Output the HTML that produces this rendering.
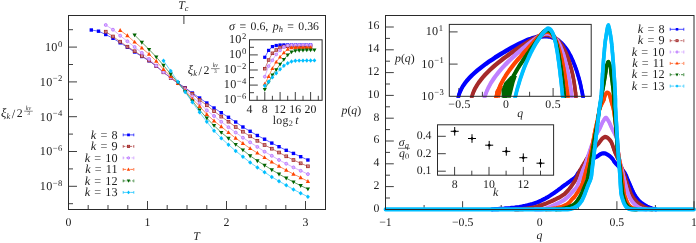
<!DOCTYPE html>
<html>
<head>
<meta charset="utf-8">
<title>figure</title>
<style>
html,body{margin:0;padding:0;background:#fff;}
body{width:696px;height:243px;overflow:hidden;font-family:"Liberation Serif",serif;}
svg{display:block;will-change:transform;text-rendering:geometricPrecision;}
</style>
</head>
<body>
<svg width="696" height="243" viewBox="0 0 696 243" font-family="'Liberation Serif', serif">
<rect width="696" height="243" fill="#fff"/>
<g id="left-main">
<polyline points="91.3,30 98.5,31.2 105.7,34.5 113,38.3 120.2,42.8 127.4,47.3 134.6,52 141.8,56.5 149.1,60.8 156.3,66.2 163.5,72.3 170.7,77.8 177.9,83 185.2,87.8 192.4,93 199.6,98 206.8,103 214,108 221.3,112.7 228.5,117.3 235.7,122 242.9,127 250.1,131.3 257.4,135.5 264.6,139.2 271.8,143.1 279,146.7 286.2,150.3 293.5,153.4 300.7,156.7 307.9,160" fill="none" stroke="#0000ff" stroke-width="0.6" stroke-linejoin="round" stroke-linecap="round" />
<rect x="89.6" y="28.3" width="3.4" height="3.4" fill="#0000ff"/>
<rect x="96.82" y="29.5" width="3.4" height="3.4" fill="#0000ff"/>
<rect x="104.04" y="32.8" width="3.4" height="3.4" fill="#0000ff"/>
<rect x="111.26" y="36.6" width="3.4" height="3.4" fill="#0000ff"/>
<rect x="118.48" y="41.1" width="3.4" height="3.4" fill="#0000ff"/>
<rect x="125.7" y="45.6" width="3.4" height="3.4" fill="#0000ff"/>
<rect x="132.92" y="50.3" width="3.4" height="3.4" fill="#0000ff"/>
<rect x="140.14" y="54.8" width="3.4" height="3.4" fill="#0000ff"/>
<rect x="147.36" y="59.1" width="3.4" height="3.4" fill="#0000ff"/>
<rect x="154.58" y="64.5" width="3.4" height="3.4" fill="#0000ff"/>
<rect x="161.8" y="70.6" width="3.4" height="3.4" fill="#0000ff"/>
<rect x="169.02" y="76.1" width="3.4" height="3.4" fill="#0000ff"/>
<rect x="176.24" y="81.3" width="3.4" height="3.4" fill="#0000ff"/>
<rect x="183.46" y="86.1" width="3.4" height="3.4" fill="#0000ff"/>
<rect x="190.68" y="91.3" width="3.4" height="3.4" fill="#0000ff"/>
<rect x="197.9" y="96.3" width="3.4" height="3.4" fill="#0000ff"/>
<rect x="205.12" y="101.3" width="3.4" height="3.4" fill="#0000ff"/>
<rect x="212.34" y="106.3" width="3.4" height="3.4" fill="#0000ff"/>
<rect x="219.56" y="111" width="3.4" height="3.4" fill="#0000ff"/>
<rect x="226.78" y="115.6" width="3.4" height="3.4" fill="#0000ff"/>
<rect x="234" y="120.3" width="3.4" height="3.4" fill="#0000ff"/>
<rect x="241.22" y="125.3" width="3.4" height="3.4" fill="#0000ff"/>
<rect x="248.44" y="129.6" width="3.4" height="3.4" fill="#0000ff"/>
<rect x="255.66" y="133.8" width="3.4" height="3.4" fill="#0000ff"/>
<rect x="262.88" y="137.5" width="3.4" height="3.4" fill="#0000ff"/>
<rect x="270.1" y="141.4" width="3.4" height="3.4" fill="#0000ff"/>
<rect x="277.32" y="145" width="3.4" height="3.4" fill="#0000ff"/>
<rect x="284.54" y="148.6" width="3.4" height="3.4" fill="#0000ff"/>
<rect x="291.76" y="151.7" width="3.4" height="3.4" fill="#0000ff"/>
<rect x="298.98" y="155" width="3.4" height="3.4" fill="#0000ff"/>
<rect x="306.2" y="158.3" width="3.4" height="3.4" fill="#0000ff"/>
<polyline points="105.7,31.7 113,36.5 120.2,41.7 127.4,46.7 134.6,51.2 141.8,56 149.1,60.5 156.3,66 163.5,72.3 170.7,78 177.9,83.2 185.2,88.2 192.4,93.8 199.6,100 206.8,105.3 214,111.2 221.3,116.6 228.5,121.7 235.7,127 242.9,131.7 250.1,136.3 257.4,140.8 264.6,145 271.8,148.7 279,152.5 286.2,156.3 293.5,160 300.7,163.3 307.9,166.3" fill="none" stroke="#a52a2a" stroke-width="0.6" stroke-linejoin="round" stroke-linecap="round" />
<rect x="104.39" y="30.35" width="2.7" height="2.7" fill="#e6c6c6" stroke="#a52a2a" stroke-width="0.9"/>
<rect x="105.29" y="31.25" width="0.9" height="0.9" fill="#a52a2a"/>
<rect x="111.61" y="35.15" width="2.7" height="2.7" fill="#e6c6c6" stroke="#a52a2a" stroke-width="0.9"/>
<rect x="112.51" y="36.05" width="0.9" height="0.9" fill="#a52a2a"/>
<rect x="118.83" y="40.35" width="2.7" height="2.7" fill="#e6c6c6" stroke="#a52a2a" stroke-width="0.9"/>
<rect x="119.73" y="41.25" width="0.9" height="0.9" fill="#a52a2a"/>
<rect x="126.05" y="45.35" width="2.7" height="2.7" fill="#e6c6c6" stroke="#a52a2a" stroke-width="0.9"/>
<rect x="126.95" y="46.25" width="0.9" height="0.9" fill="#a52a2a"/>
<rect x="133.27" y="49.85" width="2.7" height="2.7" fill="#e6c6c6" stroke="#a52a2a" stroke-width="0.9"/>
<rect x="134.17" y="50.75" width="0.9" height="0.9" fill="#a52a2a"/>
<rect x="140.49" y="54.65" width="2.7" height="2.7" fill="#e6c6c6" stroke="#a52a2a" stroke-width="0.9"/>
<rect x="141.39" y="55.55" width="0.9" height="0.9" fill="#a52a2a"/>
<rect x="147.71" y="59.15" width="2.7" height="2.7" fill="#e6c6c6" stroke="#a52a2a" stroke-width="0.9"/>
<rect x="148.61" y="60.05" width="0.9" height="0.9" fill="#a52a2a"/>
<rect x="154.93" y="64.65" width="2.7" height="2.7" fill="#e6c6c6" stroke="#a52a2a" stroke-width="0.9"/>
<rect x="155.83" y="65.55" width="0.9" height="0.9" fill="#a52a2a"/>
<rect x="162.15" y="70.95" width="2.7" height="2.7" fill="#e6c6c6" stroke="#a52a2a" stroke-width="0.9"/>
<rect x="163.05" y="71.85" width="0.9" height="0.9" fill="#a52a2a"/>
<rect x="169.37" y="76.65" width="2.7" height="2.7" fill="#e6c6c6" stroke="#a52a2a" stroke-width="0.9"/>
<rect x="170.27" y="77.55" width="0.9" height="0.9" fill="#a52a2a"/>
<rect x="176.59" y="81.85" width="2.7" height="2.7" fill="#e6c6c6" stroke="#a52a2a" stroke-width="0.9"/>
<rect x="177.49" y="82.75" width="0.9" height="0.9" fill="#a52a2a"/>
<rect x="183.81" y="86.85" width="2.7" height="2.7" fill="#e6c6c6" stroke="#a52a2a" stroke-width="0.9"/>
<rect x="184.71" y="87.75" width="0.9" height="0.9" fill="#a52a2a"/>
<rect x="191.03" y="92.45" width="2.7" height="2.7" fill="#e6c6c6" stroke="#a52a2a" stroke-width="0.9"/>
<rect x="191.93" y="93.35" width="0.9" height="0.9" fill="#a52a2a"/>
<rect x="198.25" y="98.65" width="2.7" height="2.7" fill="#e6c6c6" stroke="#a52a2a" stroke-width="0.9"/>
<rect x="199.15" y="99.55" width="0.9" height="0.9" fill="#a52a2a"/>
<rect x="205.47" y="103.95" width="2.7" height="2.7" fill="#e6c6c6" stroke="#a52a2a" stroke-width="0.9"/>
<rect x="206.37" y="104.85" width="0.9" height="0.9" fill="#a52a2a"/>
<rect x="212.69" y="109.85" width="2.7" height="2.7" fill="#e6c6c6" stroke="#a52a2a" stroke-width="0.9"/>
<rect x="213.59" y="110.75" width="0.9" height="0.9" fill="#a52a2a"/>
<rect x="219.91" y="115.25" width="2.7" height="2.7" fill="#e6c6c6" stroke="#a52a2a" stroke-width="0.9"/>
<rect x="220.81" y="116.15" width="0.9" height="0.9" fill="#a52a2a"/>
<rect x="227.13" y="120.35" width="2.7" height="2.7" fill="#e6c6c6" stroke="#a52a2a" stroke-width="0.9"/>
<rect x="228.03" y="121.25" width="0.9" height="0.9" fill="#a52a2a"/>
<rect x="234.35" y="125.65" width="2.7" height="2.7" fill="#e6c6c6" stroke="#a52a2a" stroke-width="0.9"/>
<rect x="235.25" y="126.55" width="0.9" height="0.9" fill="#a52a2a"/>
<rect x="241.57" y="130.35" width="2.7" height="2.7" fill="#e6c6c6" stroke="#a52a2a" stroke-width="0.9"/>
<rect x="242.47" y="131.25" width="0.9" height="0.9" fill="#a52a2a"/>
<rect x="248.79" y="134.95" width="2.7" height="2.7" fill="#e6c6c6" stroke="#a52a2a" stroke-width="0.9"/>
<rect x="249.69" y="135.85" width="0.9" height="0.9" fill="#a52a2a"/>
<rect x="256.01" y="139.45" width="2.7" height="2.7" fill="#e6c6c6" stroke="#a52a2a" stroke-width="0.9"/>
<rect x="256.91" y="140.35" width="0.9" height="0.9" fill="#a52a2a"/>
<rect x="263.23" y="143.65" width="2.7" height="2.7" fill="#e6c6c6" stroke="#a52a2a" stroke-width="0.9"/>
<rect x="264.13" y="144.55" width="0.9" height="0.9" fill="#a52a2a"/>
<rect x="270.45" y="147.35" width="2.7" height="2.7" fill="#e6c6c6" stroke="#a52a2a" stroke-width="0.9"/>
<rect x="271.35" y="148.25" width="0.9" height="0.9" fill="#a52a2a"/>
<rect x="277.67" y="151.15" width="2.7" height="2.7" fill="#e6c6c6" stroke="#a52a2a" stroke-width="0.9"/>
<rect x="278.57" y="152.05" width="0.9" height="0.9" fill="#a52a2a"/>
<rect x="284.89" y="154.95" width="2.7" height="2.7" fill="#e6c6c6" stroke="#a52a2a" stroke-width="0.9"/>
<rect x="285.79" y="155.85" width="0.9" height="0.9" fill="#a52a2a"/>
<rect x="292.11" y="158.65" width="2.7" height="2.7" fill="#e6c6c6" stroke="#a52a2a" stroke-width="0.9"/>
<rect x="293.01" y="159.55" width="0.9" height="0.9" fill="#a52a2a"/>
<rect x="299.33" y="161.95" width="2.7" height="2.7" fill="#e6c6c6" stroke="#a52a2a" stroke-width="0.9"/>
<rect x="300.23" y="162.85" width="0.9" height="0.9" fill="#a52a2a"/>
<rect x="306.55" y="164.95" width="2.7" height="2.7" fill="#e6c6c6" stroke="#a52a2a" stroke-width="0.9"/>
<rect x="307.45" y="165.85" width="0.9" height="0.9" fill="#a52a2a"/>
<polyline points="105.7,25 113,29.7 120.2,35.7 127.4,41.3 134.6,47 141.8,52.9 149.1,59 156.3,65.6 163.5,72.1 170.7,77.6 177.9,83.3 185.2,89.5 192.4,96.5 199.6,103.3 206.8,110.3 214,116 221.3,121.8 228.5,127.2 235.7,132.5 242.9,137.7 250.1,142.3 257.4,146.9 264.6,151.7 271.8,155.8 279,160 286.2,163.7 293.5,167.4 300.7,170.8 307.9,174.1" fill="none" stroke="#c080ff" stroke-width="0.6" stroke-linejoin="round" stroke-linecap="round" />
<circle cx="105.74" cy="25" r="1.45" fill="#dcb8ff" stroke="#c080ff" stroke-width="1"/>
<circle cx="112.96" cy="29.7" r="1.45" fill="#dcb8ff" stroke="#c080ff" stroke-width="1"/>
<circle cx="120.18" cy="35.7" r="1.45" fill="#dcb8ff" stroke="#c080ff" stroke-width="1"/>
<circle cx="127.4" cy="41.3" r="1.45" fill="#dcb8ff" stroke="#c080ff" stroke-width="1"/>
<circle cx="134.62" cy="47" r="1.45" fill="#dcb8ff" stroke="#c080ff" stroke-width="1"/>
<circle cx="141.84" cy="52.9" r="1.45" fill="#dcb8ff" stroke="#c080ff" stroke-width="1"/>
<circle cx="149.06" cy="59" r="1.45" fill="#dcb8ff" stroke="#c080ff" stroke-width="1"/>
<circle cx="156.28" cy="65.6" r="1.45" fill="#dcb8ff" stroke="#c080ff" stroke-width="1"/>
<circle cx="163.5" cy="72.1" r="1.45" fill="#dcb8ff" stroke="#c080ff" stroke-width="1"/>
<circle cx="170.72" cy="77.6" r="1.45" fill="#dcb8ff" stroke="#c080ff" stroke-width="1"/>
<circle cx="177.94" cy="83.3" r="1.45" fill="#dcb8ff" stroke="#c080ff" stroke-width="1"/>
<circle cx="185.16" cy="89.5" r="1.45" fill="#dcb8ff" stroke="#c080ff" stroke-width="1"/>
<circle cx="192.38" cy="96.5" r="1.45" fill="#dcb8ff" stroke="#c080ff" stroke-width="1"/>
<circle cx="199.6" cy="103.3" r="1.45" fill="#dcb8ff" stroke="#c080ff" stroke-width="1"/>
<circle cx="206.82" cy="110.3" r="1.45" fill="#dcb8ff" stroke="#c080ff" stroke-width="1"/>
<circle cx="214.04" cy="116" r="1.45" fill="#dcb8ff" stroke="#c080ff" stroke-width="1"/>
<circle cx="221.26" cy="121.8" r="1.45" fill="#dcb8ff" stroke="#c080ff" stroke-width="1"/>
<circle cx="228.48" cy="127.2" r="1.45" fill="#dcb8ff" stroke="#c080ff" stroke-width="1"/>
<circle cx="235.7" cy="132.5" r="1.45" fill="#dcb8ff" stroke="#c080ff" stroke-width="1"/>
<circle cx="242.92" cy="137.7" r="1.45" fill="#dcb8ff" stroke="#c080ff" stroke-width="1"/>
<circle cx="250.14" cy="142.3" r="1.45" fill="#dcb8ff" stroke="#c080ff" stroke-width="1"/>
<circle cx="257.36" cy="146.9" r="1.45" fill="#dcb8ff" stroke="#c080ff" stroke-width="1"/>
<circle cx="264.58" cy="151.7" r="1.45" fill="#dcb8ff" stroke="#c080ff" stroke-width="1"/>
<circle cx="271.8" cy="155.8" r="1.45" fill="#dcb8ff" stroke="#c080ff" stroke-width="1"/>
<circle cx="279.02" cy="160" r="1.45" fill="#dcb8ff" stroke="#c080ff" stroke-width="1"/>
<circle cx="286.24" cy="163.7" r="1.45" fill="#dcb8ff" stroke="#c080ff" stroke-width="1"/>
<circle cx="293.46" cy="167.4" r="1.45" fill="#dcb8ff" stroke="#c080ff" stroke-width="1"/>
<circle cx="300.68" cy="170.8" r="1.45" fill="#dcb8ff" stroke="#c080ff" stroke-width="1"/>
<circle cx="307.9" cy="174.1" r="1.45" fill="#dcb8ff" stroke="#c080ff" stroke-width="1"/>
<polyline points="120.2,30.3 127.4,35.7 134.6,42 141.8,48 149.1,54.2 156.3,61.2 163.5,69.3 170.7,76.3 177.9,83.5 185.2,90.5 192.4,99 199.6,106.3 206.8,114.4 214,120.8 221.3,126.7 228.5,132.5 235.7,138.2 242.9,143.3 250.1,148.5 257.4,153 264.6,157.5 271.8,162 279,166.2 286.2,170.2 293.5,174.1 300.7,177.6 307.9,181.3" fill="none" stroke="#ff4500" stroke-width="0.6" stroke-linejoin="round" stroke-linecap="round" />
<path d="M120.18,27.94 L122.33,31.91 L118.03,31.91 Z" fill="#ff4500"/>
<path d="M127.4,33.34 L129.55,37.31 L125.25,37.31 Z" fill="#ff4500"/>
<path d="M134.62,39.63 L136.77,43.61 L132.47,43.61 Z" fill="#ff4500"/>
<path d="M141.84,45.63 L143.99,49.61 L139.69,49.61 Z" fill="#ff4500"/>
<path d="M149.06,51.84 L151.21,55.81 L146.91,55.81 Z" fill="#ff4500"/>
<path d="M156.28,58.84 L158.43,62.81 L154.13,62.81 Z" fill="#ff4500"/>
<path d="M163.5,66.94 L165.65,70.91 L161.35,70.91 Z" fill="#ff4500"/>
<path d="M170.72,73.94 L172.87,77.91 L168.57,77.91 Z" fill="#ff4500"/>
<path d="M177.94,81.14 L180.09,85.11 L175.79,85.11 Z" fill="#ff4500"/>
<path d="M185.16,88.14 L187.31,92.11 L183.01,92.11 Z" fill="#ff4500"/>
<path d="M192.38,96.64 L194.53,100.61 L190.23,100.61 Z" fill="#ff4500"/>
<path d="M199.6,103.94 L201.75,107.91 L197.45,107.91 Z" fill="#ff4500"/>
<path d="M206.82,112.04 L208.97,116.01 L204.67,116.01 Z" fill="#ff4500"/>
<path d="M214.04,118.44 L216.19,122.41 L211.89,122.41 Z" fill="#ff4500"/>
<path d="M221.26,124.34 L223.41,128.31 L219.11,128.31 Z" fill="#ff4500"/>
<path d="M228.48,130.13 L230.63,134.11 L226.33,134.11 Z" fill="#ff4500"/>
<path d="M235.7,135.83 L237.85,139.81 L233.55,139.81 Z" fill="#ff4500"/>
<path d="M242.92,140.94 L245.07,144.91 L240.77,144.91 Z" fill="#ff4500"/>
<path d="M250.14,146.13 L252.29,150.11 L247.99,150.11 Z" fill="#ff4500"/>
<path d="M257.36,150.63 L259.51,154.61 L255.21,154.61 Z" fill="#ff4500"/>
<path d="M264.58,155.13 L266.73,159.11 L262.43,159.11 Z" fill="#ff4500"/>
<path d="M271.8,159.63 L273.95,163.61 L269.65,163.61 Z" fill="#ff4500"/>
<path d="M279.02,163.83 L281.17,167.81 L276.87,167.81 Z" fill="#ff4500"/>
<path d="M286.24,167.83 L288.39,171.81 L284.09,171.81 Z" fill="#ff4500"/>
<path d="M293.46,171.73 L295.61,175.71 L291.31,175.71 Z" fill="#ff4500"/>
<path d="M300.68,175.23 L302.83,179.21 L298.53,179.21 Z" fill="#ff4500"/>
<path d="M307.9,178.94 L310.05,182.91 L305.75,182.91 Z" fill="#ff4500"/>
<polyline points="134.6,35 141.8,42.3 149.1,49.5 156.3,57 163.5,65.4 170.7,74.1 177.9,82.5 185.2,91.5 192.4,101 199.6,110 206.8,118.2 214,125.5 221.3,132.5 228.5,138.3 235.7,144.5 242.9,150 250.1,155.8 257.4,160.8 264.6,165.3 271.8,169.8 279,174.1 286.2,178.2 293.5,182 300.7,185.7 307.9,189" fill="none" stroke="#006400" stroke-width="0.6" stroke-linejoin="round" stroke-linecap="round" />
<path d="M134.62,37.37 L136.77,33.39 L132.47,33.39 Z" fill="#006400"/>
<path d="M141.84,44.66 L143.99,40.69 L139.69,40.69 Z" fill="#006400"/>
<path d="M149.06,51.87 L151.21,47.89 L146.91,47.89 Z" fill="#006400"/>
<path d="M156.28,59.37 L158.43,55.39 L154.13,55.39 Z" fill="#006400"/>
<path d="M163.5,67.77 L165.65,63.79 L161.35,63.79 Z" fill="#006400"/>
<path d="M170.72,76.46 L172.87,72.49 L168.57,72.49 Z" fill="#006400"/>
<path d="M177.94,84.86 L180.09,80.89 L175.79,80.89 Z" fill="#006400"/>
<path d="M185.16,93.86 L187.31,89.89 L183.01,89.89 Z" fill="#006400"/>
<path d="M192.38,103.36 L194.53,99.39 L190.23,99.39 Z" fill="#006400"/>
<path d="M199.6,112.36 L201.75,108.39 L197.45,108.39 Z" fill="#006400"/>
<path d="M206.82,120.56 L208.97,116.59 L204.67,116.59 Z" fill="#006400"/>
<path d="M214.04,127.86 L216.19,123.89 L211.89,123.89 Z" fill="#006400"/>
<path d="M221.26,134.87 L223.41,130.89 L219.11,130.89 Z" fill="#006400"/>
<path d="M228.48,140.67 L230.63,136.69 L226.33,136.69 Z" fill="#006400"/>
<path d="M235.7,146.87 L237.85,142.89 L233.55,142.89 Z" fill="#006400"/>
<path d="M242.92,152.37 L245.07,148.39 L240.77,148.39 Z" fill="#006400"/>
<path d="M250.14,158.17 L252.29,154.19 L247.99,154.19 Z" fill="#006400"/>
<path d="M257.36,163.17 L259.51,159.19 L255.21,159.19 Z" fill="#006400"/>
<path d="M264.58,167.67 L266.73,163.69 L262.43,163.69 Z" fill="#006400"/>
<path d="M271.8,172.17 L273.95,168.19 L269.65,168.19 Z" fill="#006400"/>
<path d="M279.02,176.47 L281.17,172.49 L276.87,172.49 Z" fill="#006400"/>
<path d="M286.24,180.56 L288.39,176.59 L284.09,176.59 Z" fill="#006400"/>
<path d="M293.46,184.37 L295.61,180.39 L291.31,180.39 Z" fill="#006400"/>
<path d="M300.68,188.06 L302.83,184.09 L298.53,184.09 Z" fill="#006400"/>
<path d="M307.9,191.37 L310.05,187.39 L305.75,187.39 Z" fill="#006400"/>
<polyline points="163.5,60.7 170.7,71 177.9,81.8 185.2,92 192.4,102.3 199.6,112.3 206.8,121.7 214,130.8 221.3,138.2 228.5,144.7 235.7,151 242.9,156.7 250.1,162.5 257.4,167.5 264.6,172.2 271.8,177 279,181.2 286.2,185.3 293.5,189.5 300.7,193.2 307.9,196.7" fill="none" stroke="#00bfff" stroke-width="0.6" stroke-linejoin="round" stroke-linecap="round" />
<path d="M163.5,58.4 L165.5,60.7 L163.5,63 L161.5,60.7 Z" fill="#00bfff"/>
<path d="M170.72,68.7 L172.72,71 L170.72,73.3 L168.72,71 Z" fill="#00bfff"/>
<path d="M177.94,79.5 L179.94,81.8 L177.94,84.1 L175.94,81.8 Z" fill="#00bfff"/>
<path d="M185.16,89.7 L187.16,92 L185.16,94.3 L183.16,92 Z" fill="#00bfff"/>
<path d="M192.38,100 L194.38,102.3 L192.38,104.6 L190.38,102.3 Z" fill="#00bfff"/>
<path d="M199.6,110 L201.6,112.3 L199.6,114.6 L197.6,112.3 Z" fill="#00bfff"/>
<path d="M206.82,119.4 L208.82,121.7 L206.82,124 L204.82,121.7 Z" fill="#00bfff"/>
<path d="M214.04,128.5 L216.04,130.8 L214.04,133.1 L212.04,130.8 Z" fill="#00bfff"/>
<path d="M221.26,135.9 L223.26,138.2 L221.26,140.5 L219.26,138.2 Z" fill="#00bfff"/>
<path d="M228.48,142.4 L230.48,144.7 L228.48,147 L226.48,144.7 Z" fill="#00bfff"/>
<path d="M235.7,148.7 L237.7,151 L235.7,153.3 L233.7,151 Z" fill="#00bfff"/>
<path d="M242.92,154.4 L244.92,156.7 L242.92,159 L240.92,156.7 Z" fill="#00bfff"/>
<path d="M250.14,160.2 L252.14,162.5 L250.14,164.8 L248.14,162.5 Z" fill="#00bfff"/>
<path d="M257.36,165.2 L259.36,167.5 L257.36,169.8 L255.36,167.5 Z" fill="#00bfff"/>
<path d="M264.58,169.9 L266.58,172.2 L264.58,174.5 L262.58,172.2 Z" fill="#00bfff"/>
<path d="M271.8,174.7 L273.8,177 L271.8,179.3 L269.8,177 Z" fill="#00bfff"/>
<path d="M279.02,178.9 L281.02,181.2 L279.02,183.5 L277.02,181.2 Z" fill="#00bfff"/>
<path d="M286.24,183 L288.24,185.3 L286.24,187.6 L284.24,185.3 Z" fill="#00bfff"/>
<path d="M293.46,187.2 L295.46,189.5 L293.46,191.8 L291.46,189.5 Z" fill="#00bfff"/>
<path d="M300.68,190.9 L302.68,193.2 L300.68,195.5 L298.68,193.2 Z" fill="#00bfff"/>
<path d="M307.9,194.4 L309.9,196.7 L307.9,199 L305.9,196.7 Z" fill="#00bfff"/>
</g>
<g id="left-axes">
<rect x="68.5" y="15.5" width="257" height="194" fill="none" stroke="#2a2a2a" stroke-width="1"/>
<line x1="68.5" y1="203.7" x2="73" y2="203.7" stroke="#2a2a2a" stroke-width="0.9" />
<line x1="68.5" y1="186.3" x2="77" y2="186.3" stroke="#2a2a2a" stroke-width="0.9" />
<line x1="68.5" y1="168.9" x2="73" y2="168.9" stroke="#2a2a2a" stroke-width="0.9" />
<line x1="68.5" y1="151.5" x2="77" y2="151.5" stroke="#2a2a2a" stroke-width="0.9" />
<line x1="68.5" y1="134.1" x2="73" y2="134.1" stroke="#2a2a2a" stroke-width="0.9" />
<line x1="68.5" y1="116.7" x2="77" y2="116.7" stroke="#2a2a2a" stroke-width="0.9" />
<line x1="68.5" y1="99.3" x2="73" y2="99.3" stroke="#2a2a2a" stroke-width="0.9" />
<line x1="68.5" y1="81.9" x2="77" y2="81.9" stroke="#2a2a2a" stroke-width="0.9" />
<line x1="68.5" y1="64.5" x2="73" y2="64.5" stroke="#2a2a2a" stroke-width="0.9" />
<line x1="68.5" y1="47.1" x2="77" y2="47.1" stroke="#2a2a2a" stroke-width="0.9" />
<line x1="68.5" y1="29.7" x2="73" y2="29.7" stroke="#2a2a2a" stroke-width="0.9" />
<line x1="68.5" y1="209.5" x2="68.5" y2="201" stroke="#2a2a2a" stroke-width="0.9" />
<line x1="88.2" y1="209.5" x2="88.2" y2="205" stroke="#2a2a2a" stroke-width="0.9" />
<line x1="108" y1="209.5" x2="108" y2="205" stroke="#2a2a2a" stroke-width="0.9" />
<line x1="127.8" y1="209.5" x2="127.8" y2="205" stroke="#2a2a2a" stroke-width="0.9" />
<line x1="147.5" y1="209.5" x2="147.5" y2="201" stroke="#2a2a2a" stroke-width="0.9" />
<line x1="167.2" y1="209.5" x2="167.2" y2="205" stroke="#2a2a2a" stroke-width="0.9" />
<line x1="187" y1="209.5" x2="187" y2="205" stroke="#2a2a2a" stroke-width="0.9" />
<line x1="206.8" y1="209.5" x2="206.8" y2="205" stroke="#2a2a2a" stroke-width="0.9" />
<line x1="226.5" y1="209.5" x2="226.5" y2="201" stroke="#2a2a2a" stroke-width="0.9" />
<line x1="246.2" y1="209.5" x2="246.2" y2="205" stroke="#2a2a2a" stroke-width="0.9" />
<line x1="266" y1="209.5" x2="266" y2="205" stroke="#2a2a2a" stroke-width="0.9" />
<line x1="285.8" y1="209.5" x2="285.8" y2="205" stroke="#2a2a2a" stroke-width="0.9" />
<line x1="305.5" y1="209.5" x2="305.5" y2="201" stroke="#2a2a2a" stroke-width="0.9" />
<line x1="183.9" y1="15.5" x2="183.9" y2="24" stroke="#2a2a2a" stroke-width="0.9" />
</g>
<g id="left-labels">
<text x="62.5" y="51" text-anchor="end" font-size="12.2" letter-spacing="0.3" fill="#222">10<tspan dy="-4.4" dx="0.2" font-size="8.6">0</tspan></text>
<text x="62.5" y="85.8" text-anchor="end" font-size="12.2" letter-spacing="0.3" fill="#222">10<tspan dy="-4.4" dx="0.2" font-size="8.6">−2</tspan></text>
<text x="62.5" y="120.6" text-anchor="end" font-size="12.2" letter-spacing="0.3" fill="#222">10<tspan dy="-4.4" dx="0.2" font-size="8.6">−4</tspan></text>
<text x="62.5" y="155.4" text-anchor="end" font-size="12.2" letter-spacing="0.3" fill="#222">10<tspan dy="-4.4" dx="0.2" font-size="8.6">−6</tspan></text>
<text x="62.5" y="190.2" text-anchor="end" font-size="12.2" letter-spacing="0.3" fill="#222">10<tspan dy="-4.4" dx="0.2" font-size="8.6">−8</tspan></text>
<text x="68.5" y="226" text-anchor="middle" font-size="11.8" fill="#222" >0</text>
<text x="147.5" y="226" text-anchor="middle" font-size="11.8" fill="#222" >1</text>
<text x="226.5" y="226" text-anchor="middle" font-size="11.8" fill="#222" >2</text>
<text x="305.5" y="226" text-anchor="middle" font-size="11.8" fill="#222" >3</text>
<text x="196.6" y="240.4" text-anchor="middle" font-size="11.8" fill="#222" font-style="italic">T</text>
<text x="178.3" y="8.7" font-size="11.8" fill="#222"><tspan font-style="italic">T</tspan><tspan dy="2" font-size="8.3" font-style="italic">c</tspan></text>
<text x="0.9" y="117" font-size="12.5" font-style="italic" fill="#222">ξ</text>
<text x="6.4" y="118.6" font-size="8.3" font-style="italic" fill="#222">k</text>
<text x="11.8" y="117.5" font-size="12.5" fill="#222">/</text>
<text x="16.8" y="117" font-size="11.8" fill="#222">2</text>
<text x="28.5" y="110" font-size="6" text-anchor="middle" font-style="italic" fill="#222">kν</text>
<line x1="24.2" y1="111.2" x2="32.8" y2="111.2" stroke="#222" stroke-width="0.5" />
<text x="28.5" y="115.4" font-size="5.5" text-anchor="middle" fill="#222">3</text>
<text x="117.5" y="138.5" text-anchor="end" font-size="12.2" fill="#222" word-spacing="1.1"><tspan font-style="italic">k</tspan> = 8</text>
<line x1="123.2" y1="134.9" x2="133.8" y2="134.9" stroke="#0000ff" stroke-width="0.7" />
<line x1="123.2" y1="133.5" x2="123.2" y2="136.3" stroke="#0000ff" stroke-width="0.7" />
<line x1="133.8" y1="133.5" x2="133.8" y2="136.3" stroke="#0000ff" stroke-width="0.7" />
<rect x="127.14" y="133.54" width="2.72" height="2.72" fill="#0000ff"/>
<text x="117.5" y="150" text-anchor="end" font-size="12.2" fill="#222" word-spacing="1.1"><tspan font-style="italic">k</tspan> = 9</text>
<line x1="123.2" y1="146.4" x2="133.8" y2="146.4" stroke="#a52a2a" stroke-width="0.7" stroke-dasharray="2.2,1.2"/>
<line x1="123.2" y1="145" x2="123.2" y2="147.8" stroke="#a52a2a" stroke-width="0.7" />
<line x1="133.8" y1="145" x2="133.8" y2="147.8" stroke="#a52a2a" stroke-width="0.7" />
<rect x="127.42" y="145.32" width="2.16" height="2.16" fill="#e6c6c6" stroke="#a52a2a" stroke-width="0.9"/>
<rect x="128.05" y="145.95" width="0.9" height="0.9" fill="#a52a2a"/>
<text x="117.5" y="161.5" text-anchor="end" font-size="12.2" fill="#222" word-spacing="1.1"><tspan font-style="italic">k</tspan> = 10</text>
<line x1="123.2" y1="157.9" x2="133.8" y2="157.9" stroke="#c080ff" stroke-width="0.7" stroke-dasharray="1.2,1.6"/>
<line x1="123.2" y1="156.5" x2="123.2" y2="159.3" stroke="#c080ff" stroke-width="0.7" />
<line x1="133.8" y1="156.5" x2="133.8" y2="159.3" stroke="#c080ff" stroke-width="0.7" />
<circle cx="128.5" cy="157.9" r="1.16" fill="#dcb8ff" stroke="#c080ff" stroke-width="1"/>
<text x="117.5" y="173" text-anchor="end" font-size="12.2" fill="#222" word-spacing="1.1"><tspan font-style="italic">k</tspan> = 11</text>
<line x1="123.2" y1="169.4" x2="133.8" y2="169.4" stroke="#ff4500" stroke-width="0.7" stroke-dasharray="3,1.5,1,1.5"/>
<line x1="123.2" y1="168" x2="123.2" y2="170.8" stroke="#ff4500" stroke-width="0.7" />
<line x1="133.8" y1="168" x2="133.8" y2="170.8" stroke="#ff4500" stroke-width="0.7" />
<path d="M128.5,167.51 L130.22,170.69 L126.78,170.69 Z" fill="#ff4500"/>
<text x="117.5" y="184.5" text-anchor="end" font-size="12.2" fill="#222" word-spacing="1.1"><tspan font-style="italic">k</tspan> = 12</text>
<line x1="123.2" y1="180.9" x2="133.8" y2="180.9" stroke="#006400" stroke-width="0.7" stroke-dasharray="2.2,1.2,0.8,1.2"/>
<line x1="123.2" y1="179.5" x2="123.2" y2="182.3" stroke="#006400" stroke-width="0.7" />
<line x1="133.8" y1="179.5" x2="133.8" y2="182.3" stroke="#006400" stroke-width="0.7" />
<path d="M128.5,182.79 L130.22,179.61 L126.78,179.61 Z" fill="#006400"/>
<text x="117.5" y="196" text-anchor="end" font-size="12.2" fill="#222" word-spacing="1.1"><tspan font-style="italic">k</tspan> = 13</text>
<line x1="123.2" y1="192.4" x2="133.8" y2="192.4" stroke="#00bfff" stroke-width="0.7" stroke-dasharray="4,1,1,1"/>
<line x1="123.2" y1="191" x2="123.2" y2="193.8" stroke="#00bfff" stroke-width="0.7" />
<line x1="133.8" y1="191" x2="133.8" y2="193.8" stroke="#00bfff" stroke-width="0.7" />
<path d="M128.5,190.56 L130.1,192.4 L128.5,194.24 L126.9,192.4 Z" fill="#00bfff"/>
</g>
<g id="left-inset">
<rect x="249.5" y="39.8" width="72.6" height="60.5" fill="#fff" stroke="none"/>
<polyline points="264.8,57.3 268.6,50.4 272.4,46.6 276.2,45.5 280.1,45 283.9,44.9 287.7,44.9 291.5,44.9 295.3,44.9 299.2,44.9 303,44.9 306.8,44.9 310.6,44.9" fill="none" stroke="#0000ff" stroke-width="0.6" stroke-linejoin="round" stroke-linecap="round" />
<rect x="263.16" y="55.68" width="3.23" height="3.23" fill="#0000ff"/>
<rect x="266.99" y="48.78" width="3.23" height="3.23" fill="#0000ff"/>
<rect x="270.81" y="44.98" width="3.23" height="3.23" fill="#0000ff"/>
<rect x="274.62" y="43.88" width="3.23" height="3.23" fill="#0000ff"/>
<rect x="278.44" y="43.38" width="3.23" height="3.23" fill="#0000ff"/>
<rect x="282.26" y="43.28" width="3.23" height="3.23" fill="#0000ff"/>
<rect x="286.08" y="43.28" width="3.23" height="3.23" fill="#0000ff"/>
<rect x="289.9" y="43.28" width="3.23" height="3.23" fill="#0000ff"/>
<rect x="293.72" y="43.28" width="3.23" height="3.23" fill="#0000ff"/>
<rect x="297.54" y="43.28" width="3.23" height="3.23" fill="#0000ff"/>
<rect x="301.37" y="43.28" width="3.23" height="3.23" fill="#0000ff"/>
<rect x="305.19" y="43.28" width="3.23" height="3.23" fill="#0000ff"/>
<rect x="309" y="43.28" width="3.23" height="3.23" fill="#0000ff"/>
<polyline points="264.8,68.7 268.6,60 272.4,53.3 276.2,50 280.1,47.5 283.9,46.6 287.7,46.3 291.5,46.2 295.3,46.2 299.2,46.2 303,46.2 306.8,46.2 310.6,46.2" fill="none" stroke="#a52a2a" stroke-width="0.6" stroke-linejoin="round" stroke-linecap="round" />
<rect x="263.5" y="67.42" width="2.56" height="2.56" fill="#e6c6c6" stroke="#a52a2a" stroke-width="0.9"/>
<rect x="264.33" y="68.25" width="0.9" height="0.9" fill="#a52a2a"/>
<rect x="267.32" y="58.72" width="2.56" height="2.56" fill="#e6c6c6" stroke="#a52a2a" stroke-width="0.9"/>
<rect x="268.15" y="59.55" width="0.9" height="0.9" fill="#a52a2a"/>
<rect x="271.14" y="52.02" width="2.56" height="2.56" fill="#e6c6c6" stroke="#a52a2a" stroke-width="0.9"/>
<rect x="271.97" y="52.85" width="0.9" height="0.9" fill="#a52a2a"/>
<rect x="274.96" y="48.72" width="2.56" height="2.56" fill="#e6c6c6" stroke="#a52a2a" stroke-width="0.9"/>
<rect x="275.79" y="49.55" width="0.9" height="0.9" fill="#a52a2a"/>
<rect x="278.78" y="46.22" width="2.56" height="2.56" fill="#e6c6c6" stroke="#a52a2a" stroke-width="0.9"/>
<rect x="279.61" y="47.05" width="0.9" height="0.9" fill="#a52a2a"/>
<rect x="282.6" y="45.32" width="2.56" height="2.56" fill="#e6c6c6" stroke="#a52a2a" stroke-width="0.9"/>
<rect x="283.43" y="46.15" width="0.9" height="0.9" fill="#a52a2a"/>
<rect x="286.42" y="45.02" width="2.56" height="2.56" fill="#e6c6c6" stroke="#a52a2a" stroke-width="0.9"/>
<rect x="287.25" y="45.85" width="0.9" height="0.9" fill="#a52a2a"/>
<rect x="290.24" y="44.92" width="2.56" height="2.56" fill="#e6c6c6" stroke="#a52a2a" stroke-width="0.9"/>
<rect x="291.07" y="45.75" width="0.9" height="0.9" fill="#a52a2a"/>
<rect x="294.06" y="44.92" width="2.56" height="2.56" fill="#e6c6c6" stroke="#a52a2a" stroke-width="0.9"/>
<rect x="294.89" y="45.75" width="0.9" height="0.9" fill="#a52a2a"/>
<rect x="297.88" y="44.92" width="2.56" height="2.56" fill="#e6c6c6" stroke="#a52a2a" stroke-width="0.9"/>
<rect x="298.71" y="45.75" width="0.9" height="0.9" fill="#a52a2a"/>
<rect x="301.7" y="44.92" width="2.56" height="2.56" fill="#e6c6c6" stroke="#a52a2a" stroke-width="0.9"/>
<rect x="302.53" y="45.75" width="0.9" height="0.9" fill="#a52a2a"/>
<rect x="305.52" y="44.92" width="2.56" height="2.56" fill="#e6c6c6" stroke="#a52a2a" stroke-width="0.9"/>
<rect x="306.35" y="45.75" width="0.9" height="0.9" fill="#a52a2a"/>
<rect x="309.34" y="44.92" width="2.56" height="2.56" fill="#e6c6c6" stroke="#a52a2a" stroke-width="0.9"/>
<rect x="310.17" y="45.75" width="0.9" height="0.9" fill="#a52a2a"/>
<polyline points="264.8,76.7 268.6,66.1 272.4,60.3 276.2,54.4 280.1,50.4 283.9,47 287.7,45.5 291.5,45 295.3,45 299.2,45 303,45 306.8,45 310.6,45" fill="none" stroke="#c080ff" stroke-width="0.6" stroke-linejoin="round" stroke-linecap="round" />
<circle cx="264.78" cy="76.7" r="1.38" fill="#dcb8ff" stroke="#c080ff" stroke-width="1"/>
<circle cx="268.6" cy="66.1" r="1.38" fill="#dcb8ff" stroke="#c080ff" stroke-width="1"/>
<circle cx="272.42" cy="60.3" r="1.38" fill="#dcb8ff" stroke="#c080ff" stroke-width="1"/>
<circle cx="276.24" cy="54.4" r="1.38" fill="#dcb8ff" stroke="#c080ff" stroke-width="1"/>
<circle cx="280.06" cy="50.4" r="1.38" fill="#dcb8ff" stroke="#c080ff" stroke-width="1"/>
<circle cx="283.88" cy="47" r="1.38" fill="#dcb8ff" stroke="#c080ff" stroke-width="1"/>
<circle cx="287.7" cy="45.5" r="1.38" fill="#dcb8ff" stroke="#c080ff" stroke-width="1"/>
<circle cx="291.52" cy="45" r="1.38" fill="#dcb8ff" stroke="#c080ff" stroke-width="1"/>
<circle cx="295.34" cy="45" r="1.38" fill="#dcb8ff" stroke="#c080ff" stroke-width="1"/>
<circle cx="299.16" cy="45" r="1.38" fill="#dcb8ff" stroke="#c080ff" stroke-width="1"/>
<circle cx="302.98" cy="45" r="1.38" fill="#dcb8ff" stroke="#c080ff" stroke-width="1"/>
<circle cx="306.8" cy="45" r="1.38" fill="#dcb8ff" stroke="#c080ff" stroke-width="1"/>
<circle cx="310.62" cy="45" r="1.38" fill="#dcb8ff" stroke="#c080ff" stroke-width="1"/>
<polyline points="264.8,84 268.6,76.5 272.4,68.4 276.2,62 280.1,57 283.9,52.7 287.7,49.3 291.5,47.8 295.3,47.5 299.2,47.5 303,47.5 306.8,47.5 310.6,47.5" fill="none" stroke="#ff4500" stroke-width="0.6" stroke-linejoin="round" stroke-linecap="round" />
<path d="M264.78,81.75 L266.82,85.53 L262.74,85.53 Z" fill="#ff4500"/>
<path d="M268.6,74.25 L270.64,78.03 L266.56,78.03 Z" fill="#ff4500"/>
<path d="M272.42,66.15 L274.46,69.93 L270.38,69.93 Z" fill="#ff4500"/>
<path d="M276.24,59.75 L278.28,63.53 L274.2,63.53 Z" fill="#ff4500"/>
<path d="M280.06,54.75 L282.1,58.53 L278.02,58.53 Z" fill="#ff4500"/>
<path d="M283.88,50.45 L285.92,54.23 L281.84,54.23 Z" fill="#ff4500"/>
<path d="M287.7,47.05 L289.74,50.83 L285.66,50.83 Z" fill="#ff4500"/>
<path d="M291.52,45.55 L293.56,49.33 L289.48,49.33 Z" fill="#ff4500"/>
<path d="M295.34,45.25 L297.38,49.03 L293.3,49.03 Z" fill="#ff4500"/>
<path d="M299.16,45.25 L301.2,49.03 L297.12,49.03 Z" fill="#ff4500"/>
<path d="M302.98,45.25 L305.02,49.03 L300.94,49.03 Z" fill="#ff4500"/>
<path d="M306.8,45.25 L308.84,49.03 L304.76,49.03 Z" fill="#ff4500"/>
<path d="M310.62,45.25 L312.66,49.03 L308.58,49.03 Z" fill="#ff4500"/>
<polyline points="264.8,89.6 268.6,82.3 272.4,75 276.2,69.8 280.1,64.3 283.9,59.5 287.7,55 291.5,52.1 295.3,50.8 299.2,50.4 303,50.2 306.8,50.1 310.6,50 314.4,50" fill="none" stroke="#006400" stroke-width="0.6" stroke-linejoin="round" stroke-linecap="round" />
<path d="M264.78,91.85 L266.82,88.07 L262.74,88.07 Z" fill="#006400"/>
<path d="M268.6,84.55 L270.64,80.77 L266.56,80.77 Z" fill="#006400"/>
<path d="M272.42,77.25 L274.46,73.47 L270.38,73.47 Z" fill="#006400"/>
<path d="M276.24,72.05 L278.28,68.27 L274.2,68.27 Z" fill="#006400"/>
<path d="M280.06,66.55 L282.1,62.77 L278.02,62.77 Z" fill="#006400"/>
<path d="M283.88,61.75 L285.92,57.97 L281.84,57.97 Z" fill="#006400"/>
<path d="M287.7,57.25 L289.74,53.47 L285.66,53.47 Z" fill="#006400"/>
<path d="M291.52,54.35 L293.56,50.57 L289.48,50.57 Z" fill="#006400"/>
<path d="M295.34,53.05 L297.38,49.27 L293.3,49.27 Z" fill="#006400"/>
<path d="M299.16,52.65 L301.2,48.87 L297.12,48.87 Z" fill="#006400"/>
<path d="M302.98,52.45 L305.02,48.67 L300.94,48.67 Z" fill="#006400"/>
<path d="M306.8,52.35 L308.84,48.57 L304.76,48.57 Z" fill="#006400"/>
<path d="M310.62,52.25 L312.66,48.47 L308.58,48.47 Z" fill="#006400"/>
<path d="M314.44,52.25 L316.48,48.47 L312.4,48.47 Z" fill="#006400"/>
<polyline points="264.8,85.8 268.6,81.8 272.4,77.4 276.2,73.3 280.1,69.3 283.9,65.8 287.7,63.2 291.5,61.5 295.3,60.8 299.2,60.6 303,60.6 306.8,60.5 310.6,60.5 314.4,60.4" fill="none" stroke="#00bfff" stroke-width="0.6" stroke-linejoin="round" stroke-linecap="round" />
<path d="M264.78,83.61 L266.68,85.8 L264.78,87.98 L262.88,85.8 Z" fill="#00bfff"/>
<path d="M268.6,79.61 L270.5,81.8 L268.6,83.98 L266.7,81.8 Z" fill="#00bfff"/>
<path d="M272.42,75.22 L274.32,77.4 L272.42,79.59 L270.52,77.4 Z" fill="#00bfff"/>
<path d="M276.24,71.11 L278.14,73.3 L276.24,75.48 L274.34,73.3 Z" fill="#00bfff"/>
<path d="M280.06,67.11 L281.96,69.3 L280.06,71.48 L278.16,69.3 Z" fill="#00bfff"/>
<path d="M283.88,63.61 L285.78,65.8 L283.88,67.98 L281.98,65.8 Z" fill="#00bfff"/>
<path d="M287.7,61.02 L289.6,63.2 L287.7,65.39 L285.8,63.2 Z" fill="#00bfff"/>
<path d="M291.52,59.31 L293.42,61.5 L291.52,63.69 L289.62,61.5 Z" fill="#00bfff"/>
<path d="M295.34,58.61 L297.24,60.8 L295.34,62.98 L293.44,60.8 Z" fill="#00bfff"/>
<path d="M299.16,58.41 L301.06,60.6 L299.16,62.79 L297.26,60.6 Z" fill="#00bfff"/>
<path d="M302.98,58.41 L304.88,60.6 L302.98,62.79 L301.08,60.6 Z" fill="#00bfff"/>
<path d="M306.8,58.31 L308.7,60.5 L306.8,62.69 L304.9,60.5 Z" fill="#00bfff"/>
<path d="M310.62,58.31 L312.52,60.5 L310.62,62.69 L308.72,60.5 Z" fill="#00bfff"/>
<path d="M314.44,58.21 L316.34,60.4 L314.44,62.59 L312.54,60.4 Z" fill="#00bfff"/>
<rect x="249.5" y="39.8" width="72.6" height="60.5" fill="none" stroke="#2a2a2a" stroke-width="1"/>
<line x1="249.5" y1="92.7" x2="254" y2="92.7" stroke="#2a2a2a" stroke-width="0.9" />
<line x1="249.5" y1="85.1" x2="257.8" y2="85.1" stroke="#2a2a2a" stroke-width="0.9" />
<line x1="249.5" y1="77.6" x2="254" y2="77.6" stroke="#2a2a2a" stroke-width="0.9" />
<line x1="249.5" y1="70" x2="257.8" y2="70" stroke="#2a2a2a" stroke-width="0.9" />
<line x1="249.5" y1="62.5" x2="254" y2="62.5" stroke="#2a2a2a" stroke-width="0.9" />
<line x1="249.5" y1="54.9" x2="257.8" y2="54.9" stroke="#2a2a2a" stroke-width="0.9" />
<line x1="249.5" y1="47.3" x2="254" y2="47.3" stroke="#2a2a2a" stroke-width="0.9" />
<line x1="257.1" y1="100.3" x2="257.1" y2="95.8" stroke="#2a2a2a" stroke-width="0.9" />
<line x1="264.8" y1="100.3" x2="264.8" y2="92" stroke="#2a2a2a" stroke-width="0.9" />
<line x1="272.4" y1="100.3" x2="272.4" y2="95.8" stroke="#2a2a2a" stroke-width="0.9" />
<line x1="280.1" y1="100.3" x2="280.1" y2="92" stroke="#2a2a2a" stroke-width="0.9" />
<line x1="287.7" y1="100.3" x2="287.7" y2="95.8" stroke="#2a2a2a" stroke-width="0.9" />
<line x1="295.3" y1="100.3" x2="295.3" y2="92" stroke="#2a2a2a" stroke-width="0.9" />
<line x1="303" y1="100.3" x2="303" y2="95.8" stroke="#2a2a2a" stroke-width="0.9" />
<line x1="310.6" y1="100.3" x2="310.6" y2="92" stroke="#2a2a2a" stroke-width="0.9" />
<line x1="318.3" y1="100.3" x2="318.3" y2="95.8" stroke="#2a2a2a" stroke-width="0.9" />
<text x="246.5" y="42.9" text-anchor="end" font-size="12.2" letter-spacing="0.3" fill="#222">10<tspan dy="-4.4" dx="0.2" font-size="8.6">2</tspan></text>
<text x="246.5" y="58" text-anchor="end" font-size="12.2" letter-spacing="0.3" fill="#222">10<tspan dy="-4.4" dx="0.2" font-size="8.6">0</tspan></text>
<text x="246.5" y="73.1" text-anchor="end" font-size="12.2" letter-spacing="0.3" fill="#222">10<tspan dy="-4.4" dx="0.2" font-size="8.6">−2</tspan></text>
<text x="246.5" y="88.2" text-anchor="end" font-size="12.2" letter-spacing="0.3" fill="#222">10<tspan dy="-4.4" dx="0.2" font-size="8.6">−4</tspan></text>
<text x="246.5" y="103.4" text-anchor="end" font-size="12.2" letter-spacing="0.3" fill="#222">10<tspan dy="-4.4" dx="0.2" font-size="8.6">−6</tspan></text>
<text x="249.5" y="112.7" text-anchor="middle" font-size="11.8" fill="#222" letter-spacing="0.2">4</text>
<text x="264.8" y="112.7" text-anchor="middle" font-size="11.8" fill="#222" letter-spacing="0.2">8</text>
<text x="280.1" y="112.7" text-anchor="middle" font-size="11.8" fill="#222" letter-spacing="0.2">12</text>
<text x="295.3" y="112.7" text-anchor="middle" font-size="11.8" fill="#222" letter-spacing="0.2">16</text>
<text x="310.6" y="112.7" text-anchor="middle" font-size="11.8" fill="#222" letter-spacing="0.2">20</text>
<text x="272.8" y="124.4" letter-spacing="0.3" font-size="11.8" fill="#222">log<tspan dy="2" font-size="8.3">2</tspan><tspan dy="-2" dx="2" font-style="italic">t</tspan></text>
<text x="187.7" y="74.4" font-size="12.5" font-style="italic" fill="#222">ξ</text>
<text x="193.2" y="76" font-size="8.3" font-style="italic" fill="#222">k</text>
<text x="198.6" y="74.9" font-size="12.5" fill="#222">/</text>
<text x="203.6" y="74.4" font-size="11.8" fill="#222">2</text>
<text x="215.3" y="67.4" font-size="6" text-anchor="middle" font-style="italic" fill="#222">kν</text>
<line x1="211" y1="68.6" x2="219.6" y2="68.6" stroke="#222" stroke-width="0.5" />
<text x="215.3" y="72.8" font-size="5.5" text-anchor="middle" fill="#222">3</text>
<text x="229" y="30.3" font-size="11.8" fill="#222" word-spacing="1.5"><tspan font-style="italic" font-size="12.2">σ</tspan> = 0.6, <tspan font-style="italic">p</tspan><tspan dy="2" font-size="8.3" font-style="italic">h</tspan><tspan dy="-2"> = 0.36</tspan></text>
</g>
<g id="right-axes">
<line x1="385.5" y1="209.4" x2="393.8" y2="209.4" stroke="#2a2a2a" stroke-width="0.9" />
<line x1="385.5" y1="198" x2="390" y2="198" stroke="#2a2a2a" stroke-width="0.9" />
<line x1="385.5" y1="186.6" x2="393.8" y2="186.6" stroke="#2a2a2a" stroke-width="0.9" />
<line x1="385.5" y1="175.2" x2="390" y2="175.2" stroke="#2a2a2a" stroke-width="0.9" />
<line x1="385.5" y1="163.8" x2="393.8" y2="163.8" stroke="#2a2a2a" stroke-width="0.9" />
<line x1="385.5" y1="152.4" x2="390" y2="152.4" stroke="#2a2a2a" stroke-width="0.9" />
<line x1="385.5" y1="141" x2="393.8" y2="141" stroke="#2a2a2a" stroke-width="0.9" />
<line x1="385.5" y1="129.6" x2="390" y2="129.6" stroke="#2a2a2a" stroke-width="0.9" />
<line x1="385.5" y1="118.2" x2="393.8" y2="118.2" stroke="#2a2a2a" stroke-width="0.9" />
<line x1="385.5" y1="106.8" x2="390" y2="106.8" stroke="#2a2a2a" stroke-width="0.9" />
<line x1="385.5" y1="95.4" x2="393.8" y2="95.4" stroke="#2a2a2a" stroke-width="0.9" />
<line x1="385.5" y1="84" x2="390" y2="84" stroke="#2a2a2a" stroke-width="0.9" />
<line x1="385.5" y1="72.6" x2="393.8" y2="72.6" stroke="#2a2a2a" stroke-width="0.9" />
<line x1="385.5" y1="61.2" x2="390" y2="61.2" stroke="#2a2a2a" stroke-width="0.9" />
<line x1="385.5" y1="49.8" x2="393.8" y2="49.8" stroke="#2a2a2a" stroke-width="0.9" />
<line x1="385.5" y1="38.4" x2="390" y2="38.4" stroke="#2a2a2a" stroke-width="0.9" />
<line x1="385.5" y1="27" x2="393.8" y2="27" stroke="#2a2a2a" stroke-width="0.9" />
<line x1="385.5" y1="209.5" x2="385.5" y2="201.2" stroke="#2a2a2a" stroke-width="0.9" />
<line x1="424.1" y1="209.5" x2="424.1" y2="205" stroke="#2a2a2a" stroke-width="0.9" />
<line x1="462.6" y1="209.5" x2="462.6" y2="201.2" stroke="#2a2a2a" stroke-width="0.9" />
<line x1="501.2" y1="209.5" x2="501.2" y2="205" stroke="#2a2a2a" stroke-width="0.9" />
<line x1="539.8" y1="209.5" x2="539.8" y2="201.2" stroke="#2a2a2a" stroke-width="0.9" />
<line x1="578.3" y1="209.5" x2="578.3" y2="205" stroke="#2a2a2a" stroke-width="0.9" />
<line x1="616.9" y1="209.5" x2="616.9" y2="201.2" stroke="#2a2a2a" stroke-width="0.9" />
<line x1="655.4" y1="209.5" x2="655.4" y2="205" stroke="#2a2a2a" stroke-width="0.9" />
<line x1="694" y1="209.5" x2="694" y2="201.2" stroke="#2a2a2a" stroke-width="0.9" />
</g>
<g id="right-main">
<polyline points="492,209 493.5,208.9 495,208.8 496.6,208.7 498.1,208.7 499.6,208.6 501.1,208.5 502.6,208.4 504.1,208.3 505.6,208.1 507.2,208 508.7,207.9 510.2,207.8 511.7,207.6 513.2,207.4 514.7,207.3 516.2,207.1 517.7,206.9 519.2,206.7 520.7,206.4 522.2,206.1 523.7,205.8 525.2,205.5 526.7,205.1 528.2,204.8 529.6,204.4 531.1,204 532.6,203.6 534,203.1 535.4,202.6 536.9,202.1 538.3,201.5 539.7,200.9 541.1,200.3 542.4,199.6 543.8,198.9 545.1,198.2 546.4,197.4 547.8,196.7 549.1,195.9 550.3,195.1 551.6,194.2 552.9,193.4 554.2,192.6 555.4,191.7 556.6,190.8 557.9,189.9 559.1,189 560.3,188.1 561.5,187.2 562.7,186.2 563.9,185.3 565.2,184.4 566.4,183.6 567.6,182.7 568.8,181.8 570.1,180.9 571.3,180 572.5,179.1 573.8,178.2 575,177.3 576,176.1 576.8,174.9 577.6,173.5 578.4,172.3 579.4,171.1 580.3,169.9 581.3,168.7 582.2,167.5 583.2,166.4 584.3,165.3 585.3,164.2 586.4,163.1 587.6,162.1 588.7,161.1 589.9,160.2 591.2,159.3 592.4,158.5 593.8,157.7 595.1,157.1 596.5,156.4 597.8,155.7 599,154.8 600.3,153.9 601.7,153.2 603.1,152.9 604.6,153 606.1,153.5 607.5,154.3 608.8,155.1 610,156 611.1,157 612.1,158.1 613.1,159.3 613.8,160.7 614.7,161.9 615.7,163 616.7,164.1 617.8,165.2 618.9,166.3 619.9,167.4 621,168.5 622.1,169.5 623.1,170.6 624.2,171.7 625,173 625.7,174.3 626.4,175.7 626.9,177.1 627.5,178.6 628,180 628.6,181.4 629.3,182.8 629.9,184.2 630.5,185.6 631.1,187 631.7,188.4 632.3,189.8 633,191.1 633.6,192.5 634.3,193.9 635.1,195.2 635.9,196.5 636.7,197.7 637.7,198.9 638.7,200.1 639.7,201.2 640.9,202.2 642.1,203.1 643.4,203.9 644.7,204.8 646,205.5 647.3,206.2 648.7,206.9 650.1,207.5 651.5,208 653,208.4 654.5,208.7 656,209" fill="none" stroke="#0000ff" stroke-width="3.5" stroke-linejoin="round" stroke-linecap="round" id="rc0"/>
<use href="#rc0" transform="translate(0,0.7)"/>
<polyline points="515,209 516.5,209 518.1,209 519.6,208.9 521.1,208.9 522.6,208.8 524.1,208.6 525.6,208.5 527.1,208.3 528.6,208.1 530.1,207.8 531.6,207.5 533.1,207.2 534.6,206.9 536.1,206.5 537.5,206.1 539,205.6 540.4,205.2 541.9,204.7 543.3,204.1 544.7,203.6 546.2,203.1 547.6,202.5 549,201.9 550.4,201.3 551.8,200.7 553.1,200.1 554.5,199.4 555.9,198.8 557.2,198.1 558.6,197.4 559.9,196.7 561.2,195.9 562.5,195.1 563.8,194.2 565,193.3 566,192.2 567.1,191.1 568.1,190 569.1,188.8 570,187.6 571,186.4 571.8,185.2 572.7,183.9 573.5,182.6 574.4,181.4 575.1,180.1 575.9,178.7 576.6,177.4 577.3,176 577.9,174.6 578.5,173.2 579.1,171.8 579.8,170.5 580.5,169.2 581.3,167.9 582,166.5 582.8,165.2 583.6,163.9 584.3,162.6 585.1,161.3 585.8,160 586.6,158.7 587.4,157.3 588.2,156 588.9,154.7 589.8,153.5 590.6,152.2 591.5,151 592.5,149.8 593.5,148.6 594.5,147.5 595.5,146.4 596.5,145.2 597.5,144.1 598.5,143 599.5,141.9 600.4,140.6 601.3,139.4 602.3,138.2 603.5,137.3 604.9,136.6 606.3,136.7 607.7,137.5 608.8,138.5 609.8,139.7 610.8,140.9 611.5,142.2 612.1,143.6 612.6,145.1 613.1,146.5 613.6,147.9 614.1,149.4 614.6,150.8 615.1,152.2 615.7,153.6 616.4,155 617,156.4 617.6,157.8 618.3,159.1 618.9,160.5 619.5,161.9 620.1,163.3 620.6,164.7 621.2,166.1 621.8,167.6 622.4,169 622.9,170.4 623.4,171.8 623.9,173.2 624.4,174.7 624.9,176.1 625.3,177.6 625.8,179 626.3,180.5 626.8,181.9 627.2,183.3 627.7,184.8 628.2,186.2 628.8,187.6 629.3,189.1 629.8,190.5 630.3,191.9 630.9,193.3 631.6,194.7 632.3,196 633.2,197.3 634.1,198.5 635.1,199.7 636.1,200.9 637.1,202 638.3,203 639.5,203.9 640.7,204.8 642,205.6 643.3,206.4 644.7,207.1 646.1,207.7 647.5,208.2 649,208.5 650.5,208.8 652,209" fill="none" stroke="#a52a2a" stroke-width="3.5" stroke-linejoin="round" stroke-linecap="round" id="rc1"/>
<use href="#rc1" transform="translate(0,0.7)"/>
<polyline points="535,209 536.6,209 538.1,209.1 539.6,209.1 541.2,209 542.7,208.9 544.1,208.6 545.6,208.2 547,207.7 548.4,207.1 549.8,206.6 551.2,206 552.6,205.4 554,204.8 555.3,204.1 556.7,203.5 558.1,202.9 559.4,202.2 560.8,201.5 562.1,200.8 563.4,200 564.7,199.2 565.9,198.2 567,197.2 568.1,196.2 569.2,195.1 570.2,194 571.2,192.9 572.2,191.8 573.2,190.7 574.3,189.5 575.4,188.4 576.4,187.3 577.1,186 577.7,184.6 578.2,183.2 578.7,181.7 579.2,180.3 579.7,178.9 580.2,177.5 580.7,176 581.2,174.6 581.7,173.2 582.2,171.8 582.7,170.3 583.3,168.9 583.9,167.6 584.5,166.2 585.1,164.8 585.6,163.4 586.1,161.9 586.5,160.5 587,159 587.5,157.6 588,156.2 588.4,154.7 588.9,153.3 589.4,151.9 589.8,150.4 590.3,149 590.8,147.6 591.3,146.1 591.8,144.7 592.4,143.3 592.9,141.9 593.4,140.5 594,139 594.5,137.6 595.2,136.3 595.9,135 596.6,133.6 597.4,132.3 598.1,131 598.9,129.7 599.6,128.4 600.3,127 600.9,125.6 601.5,124.2 602.1,122.9 602.7,121.5 603.6,120.2 604.5,118.6 605.5,117.5 606.4,117.6 607.4,118.8 608.3,120.4 609.1,121.7 609.7,123.1 610.3,124.4 610.9,125.8 611.6,127.2 612.2,128.5 612.9,129.9 613.6,131.3 614.3,132.6 614.9,133.9 615.6,135.3 616.2,136.7 616.8,138.1 617.1,139.6 617.3,141.1 617.5,142.6 617.6,144.1 617.6,145.6 617.7,147.1 617.9,148.6 618.1,150.1 618.3,151.6 618.5,153.1 618.7,154.6 618.9,156.1 619.2,157.6 619.5,159.1 619.8,160.6 620.1,162 620.5,163.5 620.8,165 621.2,166.5 621.5,167.9 621.9,169.4 622.3,170.9 622.6,172.3 623,173.8 623.3,175.3 623.7,176.7 624.1,178.2 624.4,179.7 624.8,181.1 625.2,182.6 625.5,184.1 625.9,185.5 626.3,187 626.7,188.4 627.1,189.9 627.5,191.4 628,192.8 628.5,194.2 629.1,195.6 629.7,197 630.4,198.3 631.2,199.6 632,200.9 633,202.1 634,203.2 635.1,204.3 636.3,205.3 637.5,206.2 638.7,207 640.1,207.7 641.5,208.2 642.9,208.6 644.4,208.8 646,209" fill="none" stroke="#c080ff" stroke-width="3.5" stroke-linejoin="round" stroke-linecap="round" id="rc2"/>
<use href="#rc2" transform="translate(0,0.7)"/>
<polyline points="546,209 547.5,208.9 549,208.8 550.6,208.7 552.1,208.5 553.5,208.3 555,208.1 556.5,207.8 558,207.4 559.4,207 560.9,206.6 562.3,206.1 563.8,205.5 565.2,204.9 566.5,204.2 567.8,203.4 569,202.5 570,201.3 571,200.1 571.9,199 573,197.9 574.1,196.9 575,195.7 575.9,194.5 576.7,193.2 577.6,191.9 578.4,190.7 579.2,189.4 580.1,188.1 580.8,186.8 581.5,185.5 582.1,184 582.6,182.6 583,181.2 583.4,179.7 583.8,178.3 584.2,176.8 584.7,175.3 585.1,173.9 585.5,172.4 585.9,171 586.3,169.5 586.8,168.1 587.2,166.6 587.6,165.2 588,163.7 588.4,162.2 588.7,160.8 589.1,159.3 589.4,157.8 589.8,156.3 590.1,154.9 590.5,153.4 590.8,151.9 591.2,150.5 591.6,149 591.9,147.5 592.2,146 592.4,144.5 592.7,143 593,141.5 593.2,140.1 593.5,138.6 593.8,137.1 594.1,135.6 594.3,134.1 594.6,132.6 594.9,131.1 595.2,129.6 595.5,128.2 595.9,126.7 596.2,125.2 596.5,123.7 596.9,122.3 597.2,120.8 597.5,119.3 597.7,117.8 598,116.3 598.3,114.8 598.6,113.3 598.9,111.9 599.2,110.4 599.6,108.9 600.1,107.5 600.6,106.1 601.3,104.7 601.9,103.3 602.6,102 603.3,100.6 604,99.3 604.3,97.8 604.6,96.3 605.1,94.9 605.7,93.5 606.9,92.3 608.1,92.5 609.3,93.8 609.8,95.1 610.2,96.6 610.5,98.1 610.9,99.5 611.3,101 611.7,102.5 612.1,103.9 612.5,105.4 613,106.8 613.3,108.3 613.6,109.8 613.9,111.3 614.1,112.8 614.3,114.3 614.5,115.8 614.7,117.3 614.8,118.8 615,120.3 615.2,121.8 615.4,123.3 615.6,124.8 615.7,126.3 615.9,127.8 616.1,129.3 616.2,130.8 616.4,132.3 616.5,133.8 616.6,135.3 616.8,136.8 616.9,138.3 617,139.8 617.1,141.4 617.3,142.9 617.4,144.4 617.6,145.9 617.7,147.4 617.9,148.9 618.1,150.4 618.3,151.9 618.5,153.4 618.7,154.9 619,156.4 619.2,157.9 619.4,159.4 619.7,160.9 619.9,162.4 620.2,163.9 620.4,165.3 620.6,166.8 620.9,168.3 621.1,169.8 621.3,171.3 621.5,172.8 621.7,174.3 621.9,175.8 622.1,177.3 622.3,178.8 622.5,180.3 622.7,181.8 622.9,183.3 623.1,184.8 623.2,186.3 623.4,187.9 623.6,189.4 623.8,190.9 624,192.4 624.3,193.8 624.7,195.3 625.2,196.7 625.7,198.2 626.3,199.6 626.8,201 627.4,202.4 628.2,203.7 629,205 630.1,206.1 631.3,207 632.6,207.8 634,208.3 635.4,208.7 637,209" fill="none" stroke="#ff4500" stroke-width="3.5" stroke-linejoin="round" stroke-linecap="round" id="rc3"/>
<use href="#rc3" transform="translate(0,0.7)"/>
<polyline points="556,209 557.5,208.9 559,208.8 560.5,208.7 562,208.5 563.5,208.2 565,207.9 566.4,207.5 567.9,207.1 569.3,206.5 570.7,205.9 572.1,205.3 573.4,204.5 574.6,203.7 575.7,202.6 576.7,201.4 577.5,200.2 578.3,198.9 579.1,197.6 579.9,196.3 580.6,195 581.3,193.7 582,192.3 582.6,190.9 583.2,189.6 583.8,188.2 584.4,186.8 585,185.4 585.6,184 586.2,182.6 586.7,181.2 587.2,179.8 587.6,178.3 587.9,176.8 588.1,175.3 588.4,173.9 588.7,172.4 589,170.9 589.2,169.4 589.5,167.9 589.8,166.4 590.1,165 590.3,163.5 590.6,162 590.9,160.5 591.1,159 591.4,157.5 591.6,156 591.9,154.6 592.1,153.1 592.4,151.6 592.6,150.1 592.9,148.6 593.1,147.1 593.3,145.6 593.6,144.1 593.8,142.6 594.1,141.1 594.3,139.7 594.6,138.2 594.8,136.7 595.1,135.2 595.4,133.7 595.7,132.2 595.9,130.8 596.2,129.3 596.5,127.8 596.7,126.3 597,124.8 597.2,123.3 597.5,121.8 597.7,120.3 597.9,118.8 598.1,117.4 598.4,115.9 598.6,114.4 598.8,112.9 599,111.4 599.3,109.9 599.5,108.4 599.8,106.9 600,105.4 600.3,103.9 600.5,102.5 600.7,101 600.9,99.5 601.1,98 601.4,96.5 601.6,95 601.9,93.5 602.2,92 602.5,90.5 602.8,89.1 603.1,87.6 603.4,86.1 603.6,84.6 603.9,83.1 604.1,81.7 604.4,80.2 604.6,78.7 604.9,77.2 605.1,75.7 605.4,74.2 605.6,72.7 605.9,71.2 606,69.7 606.1,68.3 606.3,66.8 606.6,65.3 607.2,63.8 607.8,62 608.5,61.5 609.1,62.9 609.8,64.6 610.2,66 610.5,67.5 610.7,69 610.9,70.5 611,72 611.2,73.5 611.4,75 611.6,76.5 611.8,78 612,79.5 612.2,81 612.4,82.5 612.5,84 612.7,85.5 612.9,87 613.1,88.5 613.2,90 613.4,91.5 613.5,93 613.6,94.5 613.7,96 613.8,97.5 613.9,99 614,100.5 614.1,102 614.2,103.5 614.3,105 614.4,106.5 614.5,108 614.6,109.5 614.7,111 614.8,112.5 615,114 615.1,115.5 615.2,117 615.3,118.5 615.4,120 615.5,121.5 615.6,123.1 615.7,124.6 615.8,126.1 615.9,127.6 616,129.1 616.1,130.6 616.2,132.1 616.4,133.6 616.5,135.1 616.6,136.6 616.7,138.1 616.8,139.6 616.9,141.1 617,142.6 617.1,144.1 617.2,145.6 617.3,147.1 617.4,148.6 617.5,150.1 617.7,151.6 617.8,153.1 618,154.6 618.2,156.1 618.4,157.6 618.7,159.1 618.9,160.6 619.1,162.1 619.4,163.6 619.6,165.1 619.8,166.6 620,168.1 620.2,169.6 620.3,171.1 620.5,172.6 620.6,174.1 620.7,175.6 620.9,177.1 621,178.6 621.1,180.1 621.2,181.6 621.4,183.1 621.5,184.6 621.7,186.1 621.8,187.6 622,189.1 622.2,190.6 622.4,192.1 622.6,193.6 622.9,195.1 623.3,196.5 623.7,198 624.1,199.4 624.6,200.9 625.2,202.3 625.9,203.6 626.7,204.9 627.6,206.1 628.8,207.1 630,207.9 631.4,208.5 632.8,208.9 634.4,209 636,209" fill="none" stroke="#006400" stroke-width="3.5" stroke-linejoin="round" stroke-linecap="round" id="rc4"/>
<use href="#rc4" transform="translate(0,0.7)"/>
<polyline points="385.5,209 387,209 388.5,209 390,209 391.5,209 393,209 394.5,209 396,209 397.5,209 399.1,209 400.6,209 402.1,209 403.6,209 405.1,209 406.6,209 408.1,209 409.6,209 411.1,209 412.6,209 414.1,209 415.6,209 417.1,209 418.6,209 420.1,209 421.6,209 423.1,209 424.7,209 426.2,209 427.7,209 429.2,209 430.7,209 432.2,209 433.7,209 435.2,209 436.7,209 438.2,209 439.7,209 441.2,209 442.7,209 444.2,209 445.7,209 447.2,209 448.8,209 450.3,209 451.8,209 453.3,209 454.8,209 456.3,209 457.8,209 459.3,209 460.8,209 462.3,209 463.8,209 465.3,209 466.8,209 468.3,209 469.8,209 471.3,209 472.8,209 474.4,209 475.9,209 477.4,209 478.9,209 480.4,209 481.9,209 483.4,209 484.9,209 486.4,209 487.9,209 489.4,209 490.9,209 492.4,209 493.9,209 495.4,209 496.9,209 498.4,209 500,209 501.5,209 503,209 504.5,209 506,209 507.5,209 509,209 510.5,209 512,209 513.5,209 515,209 516.5,209 518,209 519.5,209 521,209 522.5,209 524,209 525.6,209 527.1,209 528.6,209 530.1,209 531.6,209 533.1,209 534.6,209 536.1,209 537.6,209 539.1,209 540.6,209 542.1,209 543.6,209 545.1,209 546.6,209 548.1,209 549.6,209 551.2,209 552.7,209 554.2,209 555.7,209 557.2,209 558.7,209 560.2,209 561.7,209 563.2,209 564.7,209 566.2,208.9 567.7,208.9 569.2,208.7 570.7,208.5 572.2,208.1 573.6,207.6 575,207 576.2,206.2 577.5,205.3 578.7,204.3 579.7,203.2 580.6,202 581.5,200.8 582.3,199.5 582.9,198.1 583.5,196.8 584.1,195.4 584.7,194 585.2,192.6 585.7,191.2 586.3,189.8 586.8,188.3 587.3,186.9 587.9,185.5 588.4,184.1 589,182.7 589.6,181.4 590.2,180 590.7,178.5 591.1,177.1 591.4,175.6 591.6,174.1 591.7,172.6 591.9,171.1 592.1,169.6 592.3,168.1 592.4,166.6 592.6,165.1 592.8,163.6 593,162.1 593.2,160.7 593.3,159.2 593.5,157.7 593.7,156.2 593.9,154.7 594.1,153.2 594.3,151.7 594.4,150.2 594.6,148.7 594.8,147.2 595,145.7 595.2,144.2 595.3,142.7 595.5,141.2 595.7,139.7 595.9,138.2 596,136.7 596.2,135.2 596.4,133.7 596.6,132.2 596.8,130.7 596.9,129.3 597.1,127.8 597.3,126.3 597.5,124.8 597.6,123.3 597.8,121.8 598,120.3 598.2,118.8 598.4,117.3 598.5,115.8 598.7,114.3 598.9,112.8 599.1,111.3 599.2,109.8 599.4,108.3 599.6,106.8 599.8,105.3 600,103.8 600.3,102.4 600.5,100.9 600.7,99.4 600.9,97.9 601.1,96.4 601.3,94.9 601.4,93.4 601.5,91.9 601.6,90.4 601.7,88.9 601.8,87.4 601.9,85.9 602,84.4 602.1,82.9 602.1,81.4 602.2,79.9 602.3,78.4 602.4,76.9 602.5,75.3 602.5,73.8 602.7,72.3 602.8,70.8 602.9,69.3 603,67.8 603.1,66.3 603.2,64.8 603.3,63.3 603.4,61.8 603.5,60.3 603.6,58.8 603.8,57.3 603.9,55.8 604,54.3 604.1,52.8 604.3,51.3 604.4,49.8 604.5,48.3 604.7,46.8 604.8,45.3 605,43.8 605.1,42.3 605.3,40.8 605.5,39.3 605.8,37.9 606,36.4 606.2,34.9 606.5,33.4 606.7,31.9 606.9,30.4 607.2,28.9 607.5,27.5 607.9,25.7 608.4,24.9 608.8,26.5 609.2,28 609.6,29.5 609.8,31 610.1,32.5 610.3,33.9 610.6,35.4 610.8,36.9 611,38.4 611.3,39.9 611.4,41.4 611.6,42.9 611.8,44.4 611.9,45.9 612.1,47.4 612.2,48.9 612.3,50.4 612.4,51.9 612.6,53.4 612.7,54.9 612.8,56.4 612.9,57.9 613,59.4 613.2,60.9 613.3,62.4 613.4,63.9 613.5,65.4 613.6,66.9 613.7,68.4 613.8,69.9 613.9,71.4 614,72.9 614.1,74.4 614.2,75.9 614.3,77.4 614.4,78.9 614.5,80.4 614.6,81.9 614.7,83.4 614.7,84.9 614.8,86.4 614.9,87.9 615,89.5 615.1,91 615.1,92.5 615.2,94 615.3,95.5 615.3,97 615.4,98.5 615.4,100 615.4,101.5 615.4,103 615.4,104.5 615.4,106 615.5,107.5 615.6,109 615.7,110.5 615.8,112 615.8,113.5 615.9,115 616,116.5 616.1,118 616.2,119.5 616.3,121 616.4,122.5 616.5,124.1 616.6,125.6 616.7,127.1 616.7,128.6 616.8,130.1 616.9,131.6 617,133.1 617.1,134.6 617.2,136.1 617.3,137.6 617.4,139.1 617.5,140.6 617.5,142.1 617.6,143.6 617.7,145.1 617.8,146.6 617.9,148.1 618,149.6 618.1,151.1 618.2,152.6 618.3,154.1 618.4,155.6 618.5,157.1 618.6,158.6 618.8,160.1 618.9,161.6 619,163.1 619.1,164.6 619.2,166.1 619.4,167.6 619.5,169.1 619.6,170.6 619.7,172.1 619.8,173.6 619.9,175.1 620,176.6 620.1,178.1 620.2,179.6 620.2,181.1 620.3,182.7 620.4,184.2 620.5,185.7 620.6,187.2 620.7,188.7 620.8,190.2 620.9,191.7 621.1,193.2 621.4,194.6 621.7,196.1 622.2,197.5 622.6,199 623.1,200.4 623.6,201.9 624.2,203.2 624.9,204.6 625.7,205.9 626.7,207 627.9,207.9 629.3,208.6 630.8,208.9 632.3,209 633.8,209 635.3,209 636.8,209 638.3,209 639.8,209 641.3,209 642.8,209 644.3,209 645.8,209 647.3,209 648.8,209 650.3,209 651.8,209 653.3,209 654.8,209 656.4,209 657.9,209 659.4,209 660.9,209 662.4,209 663.9,209 665.4,209 666.9,209 668.4,209 669.9,209 671.4,209 672.9,209 674.4,209 675.9,209 677.4,209 678.9,209 680.4,209 682,209 683.5,209 685,209 686.5,209 688,209 689.5,209 691,209 692.5,209 694,209" fill="none" stroke="#00bfff" stroke-width="3.6" stroke-linejoin="round" stroke-linecap="round" id="rc5"/>
<use href="#rc5" transform="translate(0,0.7)"/>
</g>
<rect x="385.5" y="15.5" width="308.5" height="194" fill="none" stroke="#2a2a2a" stroke-width="1"/>
<g id="right-labels">
<text x="379.3" y="211.8" text-anchor="end" font-size="11.8" fill="#222" >0</text>
<text x="379.3" y="189" text-anchor="end" font-size="11.8" fill="#222" >2</text>
<text x="379.3" y="166.2" text-anchor="end" font-size="11.8" fill="#222" >4</text>
<text x="379.3" y="143.4" text-anchor="end" font-size="11.8" fill="#222" >6</text>
<text x="379.3" y="120.6" text-anchor="end" font-size="11.8" fill="#222" >8</text>
<text x="379.3" y="97.8" text-anchor="end" font-size="11.8" fill="#222" >10</text>
<text x="379.3" y="75" text-anchor="end" font-size="11.8" fill="#222" >12</text>
<text x="379.3" y="52.2" text-anchor="end" font-size="11.8" fill="#222" >14</text>
<text x="379.3" y="29.4" text-anchor="end" font-size="11.8" fill="#222" >16</text>
<text x="385.5" y="226" text-anchor="middle" font-size="11.8" fill="#222" >−1</text>
<text x="462.6" y="226" text-anchor="middle" font-size="11.8" fill="#222" >−0.5</text>
<text x="539.8" y="226" text-anchor="middle" font-size="11.8" fill="#222" >0</text>
<text x="616.9" y="226" text-anchor="middle" font-size="11.8" fill="#222" >0.5</text>
<text x="694" y="226" text-anchor="middle" font-size="11.8" fill="#222" >1</text>
<text x="539.5" y="238.6" text-anchor="middle" font-size="11.8" fill="#222" font-style="italic">q</text>
<text x="341.5" y="114.3" font-size="11.8" fill="#222"><tspan font-style="italic">p</tspan>(<tspan font-style="italic">q</tspan>)</text>
<text x="664.5" y="32.9" text-anchor="end" font-size="12.2" fill="#222" word-spacing="1.1"><tspan font-style="italic">k</tspan> = 8</text>
<line x1="670.2" y1="29.3" x2="683.8" y2="29.3" stroke="#0000ff" stroke-width="0.7" />
<line x1="670.2" y1="27.8" x2="670.2" y2="30.8" stroke="#0000ff" stroke-width="0.7" />
<line x1="683.8" y1="27.8" x2="683.8" y2="30.8" stroke="#0000ff" stroke-width="0.7" />
<rect x="675.73" y="28.03" width="2.55" height="2.55" fill="#0000ff"/>
<text x="664.5" y="44.3" text-anchor="end" font-size="12.2" fill="#222" word-spacing="1.1"><tspan font-style="italic">k</tspan> = 9</text>
<line x1="670.2" y1="40.7" x2="683.8" y2="40.7" stroke="#a52a2a" stroke-width="0.7" stroke-dasharray="2.2,1.2"/>
<line x1="670.2" y1="39.2" x2="670.2" y2="42.2" stroke="#a52a2a" stroke-width="0.7" />
<line x1="683.8" y1="39.2" x2="683.8" y2="42.2" stroke="#a52a2a" stroke-width="0.7" />
<rect x="675.99" y="39.65" width="2.03" height="2.03" fill="#e6c6c6" stroke="#a52a2a" stroke-width="0.9"/>
<rect x="676.55" y="40.21" width="0.9" height="0.9" fill="#a52a2a"/>
<text x="664.5" y="55.6" text-anchor="end" font-size="12.2" fill="#222" word-spacing="1.1"><tspan font-style="italic">k</tspan> = 10</text>
<line x1="670.2" y1="52" x2="683.8" y2="52" stroke="#c080ff" stroke-width="0.7" stroke-dasharray="1.2,1.6"/>
<line x1="670.2" y1="50.5" x2="670.2" y2="53.5" stroke="#c080ff" stroke-width="0.7" />
<line x1="683.8" y1="50.5" x2="683.8" y2="53.5" stroke="#c080ff" stroke-width="0.7" />
<circle cx="677" cy="52.02" r="1.09" fill="#dcb8ff" stroke="#c080ff" stroke-width="1"/>
<text x="664.5" y="67" text-anchor="end" font-size="12.2" fill="#222" word-spacing="1.1"><tspan font-style="italic">k</tspan> = 11</text>
<line x1="670.2" y1="63.4" x2="683.8" y2="63.4" stroke="#ff4500" stroke-width="0.7" stroke-dasharray="3,1.5,1,1.5"/>
<line x1="670.2" y1="61.9" x2="670.2" y2="64.9" stroke="#ff4500" stroke-width="0.7" />
<line x1="683.8" y1="61.9" x2="683.8" y2="64.9" stroke="#ff4500" stroke-width="0.7" />
<path d="M677,61.61 L678.61,64.59 L675.39,64.59 Z" fill="#ff4500"/>
<text x="664.5" y="78.3" text-anchor="end" font-size="12.2" fill="#222" word-spacing="1.1"><tspan font-style="italic">k</tspan> = 12</text>
<line x1="670.2" y1="74.7" x2="683.8" y2="74.7" stroke="#006400" stroke-width="0.7" stroke-dasharray="2.2,1.2,0.8,1.2"/>
<line x1="670.2" y1="73.2" x2="670.2" y2="76.2" stroke="#006400" stroke-width="0.7" />
<line x1="683.8" y1="73.2" x2="683.8" y2="76.2" stroke="#006400" stroke-width="0.7" />
<path d="M677,76.51 L678.61,73.53 L675.39,73.53 Z" fill="#006400"/>
<text x="664.5" y="89.7" text-anchor="end" font-size="12.2" fill="#222" word-spacing="1.1"><tspan font-style="italic">k</tspan> = 13</text>
<line x1="670.2" y1="86.1" x2="683.8" y2="86.1" stroke="#00bfff" stroke-width="0.7" stroke-dasharray="4,1,1,1"/>
<line x1="670.2" y1="84.6" x2="670.2" y2="87.6" stroke="#00bfff" stroke-width="0.7" />
<line x1="683.8" y1="84.6" x2="683.8" y2="87.6" stroke="#00bfff" stroke-width="0.7" />
<path d="M677,84.38 L678.5,86.1 L677,87.82 L675.5,86.1 Z" fill="#00bfff"/>
</g>
<g id="right-inset1">
<rect x="449.3" y="24.4" width="141.9" height="71.9" fill="#fff"/>
<clipPath id="cj"><rect x="449.3" y="24.4" width="141.9" height="73.4"/></clipPath>
<line x1="449.3" y1="31.9" x2="457.6" y2="31.9" stroke="#2a2a2a" stroke-width="0.9" />
<line x1="449.3" y1="64.1" x2="457.6" y2="64.1" stroke="#2a2a2a" stroke-width="0.9" />
<line x1="458.9" y1="96.3" x2="458.9" y2="88" stroke="#2a2a2a" stroke-width="0.9" />
<line x1="482.4" y1="96.3" x2="482.4" y2="91.8" stroke="#2a2a2a" stroke-width="0.9" />
<line x1="506" y1="96.3" x2="506" y2="88" stroke="#2a2a2a" stroke-width="0.9" />
<line x1="529.6" y1="96.3" x2="529.6" y2="91.8" stroke="#2a2a2a" stroke-width="0.9" />
<line x1="553.1" y1="96.3" x2="553.1" y2="88" stroke="#2a2a2a" stroke-width="0.9" />
<line x1="576.7" y1="96.3" x2="576.7" y2="91.8" stroke="#2a2a2a" stroke-width="0.9" />
<g clip-path="url(#cj)">
<polyline points="458.2,97.5 458.9,94.3 460,91.3 461.4,88.3 463,85.4 465,82.6 467.1,79.9 469.5,77.3 472,74.7 474.7,72.2 477.4,69.8 480.3,67.5 483.2,65.3 486.1,63.1 489.1,61 492,59.1 494.9,57.1 497.8,55.3 500.6,53.6 503.4,51.9 506.1,50.3 508.8,48.8 511.3,47.4 513.8,46.1 516.2,44.8 518.5,43.6 520.7,42.5 522.9,41.5 525,40.6 527,39.7 528.9,38.9 530.8,38.3 532.6,37.6 534.5,37.1 536.3,36.7 538.1,36.3 540,36 541.9,35.8 543.9,35.7 546,35.7 546,35.7 547.2,35.7 548.5,35.8 549.7,36 550.9,36.3 552.1,36.7 553.3,37.1 554.5,37.6 555.7,38.3 556.8,38.9 558,39.7 559.1,40.6 560.2,41.5 561.3,42.5 562.4,43.6 563.5,44.8 564.5,46.1 565.6,47.4 566.6,48.8 567.6,50.3 568.6,51.9 569.5,53.6 570.5,55.3 571.4,57.1 572.3,59.1 573.2,61 574,63.1 574.9,65.3 575.7,67.5 576.5,69.8 577.3,72.2 578,74.7 578.8,77.3 579.5,79.9 580.2,82.6 580.8,85.4 581.4,88.3 582.1,91.3 582.6,94.3 583.2,97.5" fill="none" stroke="#0000ff" stroke-width="3.5" stroke-linejoin="round" stroke-linecap="round" id="jc0"/>
<use href="#jc0" transform="translate(0,1.1)"/>
<polyline points="471.6,97.5 472.4,94.3 473.6,91.1 475,88.1 476.7,85.2 478.5,82.3 480.6,79.5 482.8,76.8 485.1,74.2 487.6,71.7 490.1,69.2 492.7,66.9 495.3,64.6 498,62.4 500.6,60.3 503.2,58.2 505.8,56.3 508.4,54.4 510.9,52.6 513.4,50.9 515.8,49.3 518.1,47.8 520.3,46.3 522.4,45 524.5,43.7 526.4,42.5 528.2,41.4 530,40.3 531.7,39.4 533.3,38.5 534.8,37.7 536.2,37 537.5,36.4 538.9,35.8 540.1,35.4 541.3,35 542.6,34.7 543.8,34.5 545,34.4 546.2,34.4 546.2,34.4 547.3,34.4 548.3,34.5 549.3,34.7 550.4,35 551.4,35.4 552.4,35.8 553.4,36.4 554.4,37 555.4,37.7 556.3,38.5 557.3,39.4 558.2,40.3 559.2,41.4 560.1,42.5 561,43.7 561.9,45 562.7,46.3 563.6,47.8 564.4,49.3 565.2,50.9 566,52.6 566.8,54.4 567.5,56.3 568.3,58.2 569,60.3 569.6,62.4 570.3,64.6 570.9,66.9 571.5,69.2 572.1,71.7 572.7,74.2 573.2,76.8 573.7,79.5 574.2,82.3 574.6,85.2 575,88.1 575.4,91.1 575.7,94.3 576,97.5" fill="none" stroke="#a52a2a" stroke-width="3.5" stroke-linejoin="round" stroke-linecap="round" id="jc1"/>
<use href="#jc1" transform="translate(0,1.1)"/>
<polyline points="484.4,97.4 485.4,94.2 486.6,91 488,87.9 489.6,84.9 491.2,81.9 493.1,79.1 495,76.3 497,73.7 499.1,71.1 501.2,68.6 503.4,66.1 505.6,63.8 507.8,61.6 510,59.4 512.2,57.3 514.4,55.3 516.5,53.4 518.6,51.6 520.7,49.8 522.6,48.2 524.6,46.6 526.4,45.1 528.2,43.7 529.9,42.4 531.5,41.2 533,40 534.5,39 535.9,38 537.2,37.1 538.4,36.3 539.5,35.6 540.6,34.9 541.6,34.4 542.6,33.9 543.5,33.5 544.4,33.2 545.2,33 546,32.9 546.8,32.9 546.9,32.9 547.7,32.9 548.6,33 549.4,33.2 550.2,33.5 551,33.9 551.9,34.4 552.6,34.9 553.4,35.6 554.2,36.3 555,37.1 555.7,38 556.5,39 557.2,40 557.9,41.2 558.6,42.4 559.3,43.7 560,45.1 560.7,46.6 561.3,48.2 562,49.8 562.6,51.6 563.3,53.4 563.9,55.3 564.5,57.3 565.1,59.4 565.6,61.6 566.2,63.8 566.8,66.1 567.3,68.6 567.8,71.1 568.4,73.7 568.9,76.3 569.4,79.1 569.8,81.9 570.3,84.9 570.8,87.9 571.2,91 571.6,94.2 572,97.4" fill="none" stroke="#c080ff" stroke-width="3.5" stroke-linejoin="round" stroke-linecap="round" id="jc2"/>
<use href="#jc2" transform="translate(0,1.1)"/>
<polyline points="495.9,97.4 496.8,94.1 497.8,90.8 499.1,87.6 500.4,84.5 502,81.5 503.6,78.6 505.3,75.8 507.1,73 508.9,70.4 510.8,67.8 512.7,65.3 514.6,62.9 516.5,60.6 518.4,58.4 520.3,56.3 522.1,54.2 523.8,52.2 525.5,50.4 527.2,48.6 528.7,46.9 530.2,45.3 531.6,43.7 533,42.3 534.2,41 535.4,39.7 536.5,38.5 537.6,37.4 538.5,36.4 539.4,35.5 540.3,34.7 541.1,33.9 541.9,33.3 542.6,32.7 543.4,32.2 544.1,31.8 544.8,31.5 545.6,31.3 546.4,31.2 547.3,31.1 547.3,31.1 548,31.2 548.7,31.3 549.3,31.5 549.9,31.8 550.6,32.2 551.2,32.7 551.8,33.3 552.4,33.9 553,34.7 553.6,35.5 554.2,36.4 554.8,37.4 555.4,38.5 555.9,39.7 556.5,41 557.1,42.3 557.6,43.7 558.2,45.3 558.7,46.9 559.2,48.6 559.7,50.4 560.3,52.2 560.8,54.2 561.3,56.3 561.8,58.4 562.3,60.6 562.7,62.9 563.2,65.3 563.7,67.8 564.2,70.4 564.6,73 565.1,75.8 565.5,78.6 566,81.5 566.4,84.5 566.8,87.6 567.3,90.8 567.7,94.1 568.1,97.4" fill="none" stroke="#ff4500" stroke-width="3.5" stroke-linejoin="round" stroke-linecap="round" id="jc3"/>
<use href="#jc3" transform="translate(0,1.1)"/>
<polygon points="499,86 495.3,91 494.5,98 500,98 501.8,90 503,86" fill="#ff4500"/>
<polyline points="504.8,97.5 505.7,94 506.8,90.7 507.9,87.4 509.2,84.2 510.6,81.2 512,78.2 513.5,75.3 515.1,72.5 516.7,69.7 518.3,67.1 519.9,64.5 521.5,62.1 523.1,59.7 524.6,57.5 526.2,55.3 527.6,53.2 529.1,51.2 530.4,49.2 531.8,47.4 533,45.7 534.2,44 535.3,42.5 536.4,41 537.4,39.6 538.3,38.3 539.2,37.1 540,36 540.8,35 541.5,34 542.1,33.2 542.8,32.4 543.4,31.7 544,31.2 544.6,30.7 545.2,30.3 545.8,30 546.4,29.7 547.2,29.6 547.9,29.6 547.7,29.6 548.3,29.6 548.9,29.7 549.4,30 549.9,30.3 550.5,30.7 551,31.2 551.5,31.7 552,32.4 552.5,33.2 552.9,34 553.4,35 553.9,36 554.3,37.1 554.8,38.3 555.2,39.6 555.7,41 556.1,42.5 556.6,44 557,45.7 557.4,47.4 557.8,49.2 558.2,51.2 558.6,53.2 559,55.3 559.4,57.5 559.8,59.7 560.2,62.1 560.5,64.5 560.9,67.1 561.3,69.7 561.7,72.5 562,75.3 562.4,78.2 562.8,81.2 563.1,84.2 563.5,87.4 563.8,90.7 564.2,94 564.5,97.5" fill="none" stroke="#006400" stroke-width="3.5" stroke-linejoin="round" stroke-linecap="round" id="jc4"/>
<use href="#jc4" transform="translate(0,1.1)"/>
<polygon points="510.5,76 504.2,82.8 501.5,90 501.7,98 510.8,98 512.8,90 514.6,82.8 516.9,76" fill="#006400"/>
<polyline points="515,97.5 515.9,93.9 516.7,90.5 517.6,87.2 518.6,83.9 519.5,80.8 520.5,77.7 521.5,74.8 522.5,71.9 523.5,69.1 524.5,66.4 525.6,63.8 526.6,61.3 527.7,58.9 528.7,56.6 529.8,54.3 530.8,52.2 531.9,50.1 532.9,48.2 533.9,46.3 534.9,44.5 535.9,42.8 536.9,41.2 537.9,39.7 538.8,38.3 539.7,37 540.6,35.8 541.4,34.6 542.2,33.6 543,32.6 543.7,31.7 544.4,31 545.1,30.3 545.7,29.7 546.2,29.2 546.7,28.8 547.1,28.5 547.5,28.2 547.8,28.1 548,28.1 548,28.1 548.5,28.1 549,28.2 549.5,28.5 550,28.8 550.5,29.2 551,29.7 551.4,30.3 551.8,31 552.3,31.7 552.7,32.6 553.1,33.6 553.5,34.6 553.8,35.8 554.2,37 554.6,38.3 555,39.7 555.3,41.2 555.7,42.8 556,44.5 556.3,46.3 556.7,48.2 557,50.1 557.4,52.2 557.7,54.3 558,56.6 558.3,58.9 558.7,61.3 559,63.8 559.3,66.4 559.7,69.1 560,71.9 560.3,74.8 560.7,77.7 561,80.8 561.4,83.9 561.7,87.2 562.1,90.5 562.4,93.9 562.8,97.5" fill="none" stroke="#00bfff" stroke-width="3.5" stroke-linejoin="round" stroke-linecap="round" id="jc5"/>
<use href="#jc5" transform="translate(0,1.1)"/>
</g>
<rect x="449.3" y="24.4" width="141.9" height="71.9" fill="none" stroke="#2a2a2a" stroke-width="1"/>
<text x="443.3" y="35.2" text-anchor="end" font-size="12.2" letter-spacing="0.3" fill="#222">10<tspan dy="-4.4" dx="0.2" font-size="8.6">1</tspan></text>
<text x="444" y="67.6" text-anchor="end" font-size="12.2" letter-spacing="0.3" fill="#222">10<tspan dy="-4.4" dx="0.2" font-size="8.6">−1</tspan></text>
<text x="444" y="99.8" text-anchor="end" font-size="12.2" letter-spacing="0.3" fill="#222">10<tspan dy="-4.4" dx="0.2" font-size="8.6">−3</tspan></text>
<text x="459.5" y="108.1" text-anchor="middle" font-size="11.8" fill="#222" letter-spacing="0.25">−0.5</text>
<text x="506" y="108.1" text-anchor="middle" font-size="11.8" fill="#222" letter-spacing="0.25">0</text>
<text x="553.1" y="108.1" text-anchor="middle" font-size="11.8" fill="#222" letter-spacing="0.25">0.5</text>
<text x="520.3" y="116.6" text-anchor="middle" font-size="11.8" fill="#222" font-style="italic">q</text>
<text x="395" y="62.2" font-size="11.8" fill="#222"><tspan font-style="italic">p</tspan>(<tspan font-style="italic">q</tspan>)</text>
</g>
<g id="right-inset2">
<rect x="437.5" y="124.8" width="116.1" height="50.4" fill="#fff" stroke="#2a2a2a" stroke-width="1"/>
<line x1="437.5" y1="136.3" x2="445.8" y2="136.3" stroke="#2a2a2a" stroke-width="0.9" />
<line x1="437.5" y1="153.7" x2="445.8" y2="153.7" stroke="#2a2a2a" stroke-width="0.9" />
<line x1="437.5" y1="171.2" x2="445.8" y2="171.2" stroke="#2a2a2a" stroke-width="0.9" />
<line x1="454.6" y1="175.2" x2="454.6" y2="166.9" stroke="#2a2a2a" stroke-width="0.9" />
<line x1="471.8" y1="175.2" x2="471.8" y2="170.7" stroke="#2a2a2a" stroke-width="0.9" />
<line x1="489" y1="175.2" x2="489" y2="166.9" stroke="#2a2a2a" stroke-width="0.9" />
<line x1="506.1" y1="175.2" x2="506.1" y2="170.7" stroke="#2a2a2a" stroke-width="0.9" />
<line x1="523.3" y1="175.2" x2="523.3" y2="166.9" stroke="#2a2a2a" stroke-width="0.9" />
<line x1="540.5" y1="175.2" x2="540.5" y2="170.7" stroke="#2a2a2a" stroke-width="0.9" />
<line x1="450.7" y1="131.3" x2="458.7" y2="131.3" stroke="#000" stroke-width="1" />
<line x1="454.7" y1="127" x2="454.7" y2="135.6" stroke="#000" stroke-width="1" />
<circle cx="454.7" cy="131.3" r="1.3" fill="#000"/>
<line x1="468" y1="138.5" x2="476" y2="138.5" stroke="#000" stroke-width="1" />
<line x1="472" y1="134.2" x2="472" y2="142.8" stroke="#000" stroke-width="1" />
<circle cx="472" cy="138.5" r="1.3" fill="#000"/>
<line x1="485.2" y1="145.2" x2="493.2" y2="145.2" stroke="#000" stroke-width="1" />
<line x1="489.2" y1="140.9" x2="489.2" y2="149.5" stroke="#000" stroke-width="1" />
<circle cx="489.2" cy="145.2" r="1.3" fill="#000"/>
<line x1="502.3" y1="151.4" x2="510.3" y2="151.4" stroke="#000" stroke-width="1" />
<line x1="506.3" y1="147.1" x2="506.3" y2="155.7" stroke="#000" stroke-width="1" />
<circle cx="506.3" cy="151.4" r="1.3" fill="#000"/>
<line x1="519.3" y1="157.7" x2="527.3" y2="157.7" stroke="#000" stroke-width="1" />
<line x1="523.3" y1="153.4" x2="523.3" y2="162" stroke="#000" stroke-width="1" />
<circle cx="523.3" cy="157.7" r="1.3" fill="#000"/>
<line x1="536.5" y1="163.2" x2="544.5" y2="163.2" stroke="#000" stroke-width="1" />
<line x1="540.5" y1="158.9" x2="540.5" y2="167.5" stroke="#000" stroke-width="1" />
<circle cx="540.5" cy="163.2" r="1.3" fill="#000"/>
<text x="431.5" y="139.2" text-anchor="end" font-size="11.8" fill="#222" >0.4</text>
<text x="431.5" y="156.6" text-anchor="end" font-size="11.8" fill="#222" >0.2</text>
<text x="431.5" y="174.1" text-anchor="end" font-size="11.8" fill="#222" >0.1</text>
<text x="454.6" y="188.3" text-anchor="middle" font-size="11.8" fill="#222" >8</text>
<text x="489" y="188.3" text-anchor="middle" font-size="11.8" fill="#222" >10</text>
<text x="523.3" y="188.3" text-anchor="middle" font-size="11.8" fill="#222" >12</text>
<text x="495.5" y="196" text-anchor="middle" font-size="11.8" fill="#222" font-style="italic">k</text>
<text x="403.8" y="145.6" font-size="11.8" text-anchor="middle" fill="#222"><tspan font-style="italic">σ</tspan><tspan dy="2" font-size="8.3" font-style="italic">q</tspan></text>
<line x1="398" y1="148.3" x2="410" y2="148.3" stroke="#222" stroke-width="0.6" />
<text x="404" y="156.9" font-size="11.8" text-anchor="middle" fill="#222"><tspan font-style="italic">q</tspan><tspan dy="2" font-size="8.3">0</tspan></text>
</g>
</svg>
</body>
</html>
